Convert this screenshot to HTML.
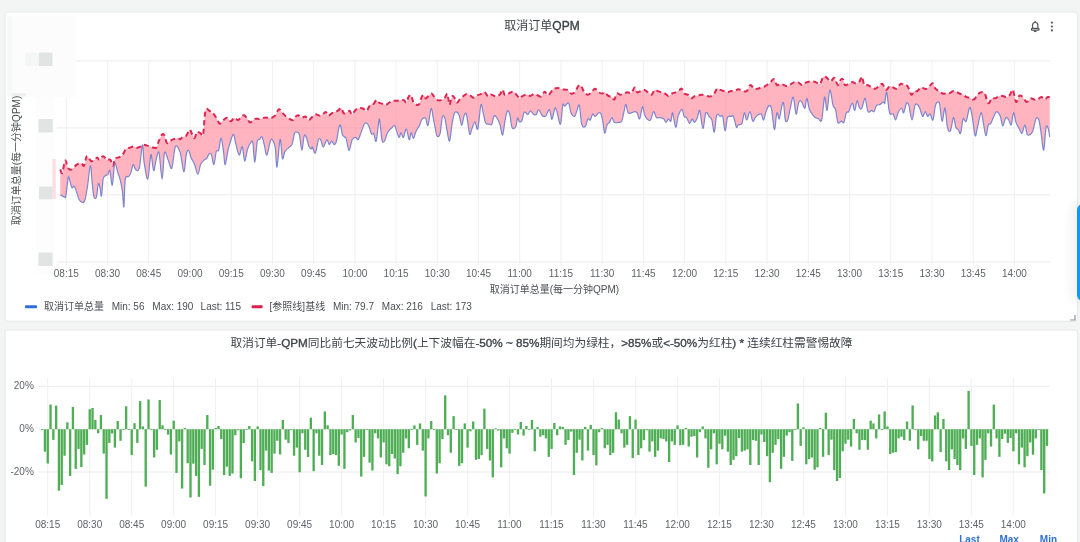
<!DOCTYPE html>
<html><head><meta charset="utf-8"><title>取消订单QPM</title>
<style>
html,body{margin:0;padding:0;}
body{width:1080px;height:542px;overflow:hidden;background:#f3f4f4;position:relative;font-family:"Liberation Sans","Noto Sans CJK SC",sans-serif;}
.panel{position:absolute;background:#fff;border:1px solid #e6e7e8;border-radius:3px;box-sizing:border-box;}
#p1{left:5px;top:11px;width:1072px;height:311px;}
#p2{left:5px;top:329px;width:1072px;height:240px;}
svg{position:absolute;left:0;top:0;}
.g{stroke:#ebebec;stroke-width:1;}
.gv{stroke:#f0f0f1;stroke-width:1;}
.t{font-family:"Liberation Sans","Noto Sans CJK SC",sans-serif;font-size:10px;fill:#606368;}
.title{font-family:"Liberation Sans","Noto Sans CJK SC",sans-serif;font-size:12px;fill:#3f444b;font-weight:normal;}
.lb{stroke:#3f444b;stroke-width:0.35px;}
.lg{font-family:"Liberation Sans","Noto Sans CJK SC",sans-serif;font-size:10px;fill:#4b4e54;}
.hd{font-family:"Liberation Sans","Noto Sans CJK SC",sans-serif;font-size:10px;fill:#2f6fd6;font-weight:bold;}
#tab{position:absolute;left:1076.5px;top:204px;width:10px;height:97px;background:#0f99f0;border-radius:6px 0 0 6px;box-shadow:-5px 0 12px rgba(0,0,0,0.07);}
</style></head>
<body>
<svg width="1080" height="542" viewBox="0 0 1080 542">
<rect x="5.1" y="12" width="1072.3" height="309.3" rx="2.5" fill="#fff" stroke="#e6e7e8" stroke-width="1"/>
<rect x="5.1" y="330" width="1072.3" height="240" rx="2.5" fill="#fff" stroke="#e6e7e8" stroke-width="1"/>
<line x1="57" y1="60.9" x2="1050" y2="60.9" class="g"/>
<line x1="57" y1="127.9" x2="1050" y2="127.9" class="g"/>
<line x1="57" y1="194.9" x2="1050" y2="194.9" class="g"/>
<line x1="57" y1="261.9" x2="1050" y2="261.9" class="g"/>
<line x1="66.3" y1="60" x2="66.3" y2="265" class="gv"/>
<line x1="107.5" y1="60" x2="107.5" y2="265" class="gv"/>
<line x1="148.7" y1="60" x2="148.7" y2="265" class="gv"/>
<line x1="190.0" y1="60" x2="190.0" y2="265" class="gv"/>
<line x1="231.2" y1="60" x2="231.2" y2="265" class="gv"/>
<line x1="272.4" y1="60" x2="272.4" y2="265" class="gv"/>
<line x1="313.6" y1="60" x2="313.6" y2="265" class="gv"/>
<line x1="354.9" y1="60" x2="354.9" y2="265" class="gv"/>
<line x1="396.1" y1="60" x2="396.1" y2="265" class="gv"/>
<line x1="437.3" y1="60" x2="437.3" y2="265" class="gv"/>
<line x1="478.5" y1="60" x2="478.5" y2="265" class="gv"/>
<line x1="519.7" y1="60" x2="519.7" y2="265" class="gv"/>
<line x1="561.0" y1="60" x2="561.0" y2="265" class="gv"/>
<line x1="602.2" y1="60" x2="602.2" y2="265" class="gv"/>
<line x1="643.4" y1="60" x2="643.4" y2="265" class="gv"/>
<line x1="684.6" y1="60" x2="684.6" y2="265" class="gv"/>
<line x1="725.8" y1="60" x2="725.8" y2="265" class="gv"/>
<line x1="767.1" y1="60" x2="767.1" y2="265" class="gv"/>
<line x1="808.3" y1="60" x2="808.3" y2="265" class="gv"/>
<line x1="849.5" y1="60" x2="849.5" y2="265" class="gv"/>
<line x1="890.7" y1="60" x2="890.7" y2="265" class="gv"/>
<line x1="932.0" y1="60" x2="932.0" y2="265" class="gv"/>
<line x1="973.2" y1="60" x2="973.2" y2="265" class="gv"/>
<line x1="1014.4" y1="60" x2="1014.4" y2="265" class="gv"/>
<path d="M60.3,169.4 C60.6,170 61.5,174.3 62.2,173.1 C62.9,171.9 64,164.2 64.6,162.2 C65.2,160.2 65.2,160 65.8,161 C66.4,162 67.2,166.8 68.2,168.2 C69.2,169.6 70.4,170 71.9,169.4 C73.3,168.8 75.1,165.6 76.7,164.6 C78.3,163.6 80.3,163.2 81.5,163.4 C82.7,163.6 83.1,166.8 83.9,165.8 C84.7,164.8 85.7,159 86.3,157.4 C86.9,155.8 86.7,155.6 87.5,156.2 C88.3,156.8 89.9,160.4 91.1,161 C92.3,161.6 93.7,160.4 94.7,159.8 C95.7,159.2 96.3,157.4 97.1,157.4 C97.9,157.4 98.5,160 99.5,159.8 C100.5,159.6 101.9,156.2 103.1,156.2 C104.4,156.2 105.6,159.2 106.8,159.8 C108,160.4 109.4,158.8 110.4,159.8 C111.4,160.8 112,166 112.8,165.8 C113.6,165.6 114.2,160 115.2,158.6 C116.2,157.2 117.6,158 118.8,157.4 C120,156.8 121.2,156.4 122.4,155 C123.6,153.6 124.8,150.2 126,149 C127.2,147.8 128.4,148.2 129.6,147.8 C130.8,147.4 132,146.6 133.2,146.6 C134.4,146.6 135.6,147.8 136.9,147.8 C138.1,147.8 139.5,147.1 140.5,146.6 C141.5,146.1 141.9,145.1 142.9,144.9 C143.9,144.7 145.3,145.1 146.5,145.4 C147.7,145.7 148.5,146.2 150.1,146.6 C151.7,147 154.7,148.6 156.1,147.8 C157.5,147 157.5,144 158.5,141.8 C159.5,139.6 161.1,135.5 162.1,134.5 C163.1,133.5 163.7,134.3 164.5,135.7 C165.3,137.1 165.9,142.2 166.9,143 C167.9,143.8 169.6,141.2 170.6,140.6 C171.6,140 171.8,139.8 173,139.4 C174.2,139 176.6,138.1 177.8,138.1 C179,138.1 179.4,139.6 180.2,139.4 C181,139.2 181.6,137.5 182.6,136.9 C183.6,136.3 185,136.9 186.2,135.7 C187.4,134.5 188.8,129.9 189.8,129.7 C190.8,129.5 191.4,133.1 192.2,134.5 C193,135.9 193.8,138.5 194.6,138.1 C195.4,137.7 196,132.9 197,132.1 C198,131.3 199.6,132.9 200.6,133.3 C201.7,133.7 202.3,138.3 203.1,134.5 C203.9,130.7 204.5,114.5 205.5,110.5 C206.5,106.5 208.1,110.1 209.1,110.5 C210.1,110.9 210.7,112.3 211.5,112.9 C212.3,113.5 212.9,112.9 213.9,114.1 C214.9,115.3 216.5,118.5 217.5,120.1 C218.5,121.7 218.9,123.7 219.9,123.7 C220.9,123.7 222.3,121.1 223.5,120.1 C224.7,119.1 225.9,117.5 227.1,117.7 C228.3,117.9 229.5,121.3 230.7,121.3 C231.9,121.3 233.1,117.9 234.4,117.7 C235.6,117.5 236.8,120.3 238,120.1 C239.2,119.9 240.6,117.3 241.6,116.5 C242.6,115.7 243,114.9 244,115.3 C245,115.7 246.6,117.7 247.6,118.9 C248.6,120.1 248.8,122.5 250,122.5 C251.2,122.5 253.2,119.5 254.8,118.9 C256.4,118.3 258,119.1 259.6,118.9 C261.2,118.7 263,117.9 264.4,117.7 C265.8,117.5 266.9,117.7 268.1,117.7 C269.3,117.7 270.5,118.1 271.7,117.7 C272.9,117.3 274.1,116.7 275.3,115.3 C276.5,113.9 277.7,109.7 278.9,109.3 C280.1,108.9 281.3,111.7 282.5,112.9 C283.7,114.1 284.9,115.5 286.1,116.5 C287.3,117.5 288.5,118.3 289.7,118.9 C290.9,119.5 292.3,120.5 293.3,120.1 C294.3,119.7 294.9,117.3 295.7,116.5 C296.5,115.7 297.1,115.1 298.1,115.3 C299.2,115.5 300.6,117.5 301.8,117.7 C303,117.9 304.2,116.1 305.4,116.5 C306.6,116.9 307.4,120.4 309,120.1 C310.6,119.8 312.8,115.3 314.8,114.5 C316.8,113.8 319,116.1 320.8,115.7 C322.6,115.3 324.4,112.1 325.6,112.1 C326.9,112.1 327.1,115.5 328.1,115.7 C329.1,115.9 330.7,113.9 331.7,113.3 C332.7,112.7 333.1,112.5 334.1,112.1 C335.1,111.7 336.5,111.6 337.7,110.9 C338.9,110.2 340.3,107.6 341.3,108 C342.3,108.4 342.7,112.7 343.7,113.3 C344.7,114 346.3,112.5 347.3,112.1 C348.3,111.7 348.9,110.5 349.7,110.9 C350.5,111.3 351.1,114.7 352.1,114.5 C353.1,114.3 354.5,110.8 355.7,109.7 C356.9,108.6 358.1,108.2 359.4,108 C360.6,107.8 361.8,108 363,108.5 C364.2,109 365.4,111.5 366.6,110.9 C367.8,110.3 369,106.1 370.2,104.9 C371.4,103.7 372.8,104.5 373.8,103.7 C374.8,102.9 375.4,100.3 376.2,100.1 C377,99.9 377.6,101.9 378.6,102.5 C379.6,103.1 381,103.3 382.2,103.7 C383.4,104.1 384.6,105.1 385.8,104.9 C387,104.7 388.2,103.2 389.4,102.5 C390.6,101.8 391.9,101.1 393.1,100.8 C394.3,100.5 395.5,100.9 396.7,100.8 C397.9,100.7 399.1,100.2 400.3,100.1 C401.5,100 402.9,99.7 403.9,100.1 C404.9,100.5 405.5,103.1 406.3,102.5 C407.1,101.9 407.9,97.7 408.7,96.5 C409.5,95.3 410.3,94.3 411.1,95.3 C411.9,96.3 412.5,100.9 413.5,102.5 C414.5,104.1 416.1,104.7 417.1,104.9 C418.1,105.1 418.7,105.1 419.5,103.7 C420.3,102.3 421.1,97.9 421.9,96.5 C422.7,95.1 423.8,95 424.4,95.3 C425,95.6 424.8,98.4 425.6,98.4 C426.4,98.4 428.2,96.1 429.2,95.3 C430.2,94.5 430.8,93.4 431.6,93.6 C432.4,93.8 433,95.4 434,96.5 C435,97.6 436.4,99.5 437.6,100.1 C438.8,100.7 440,100.5 441.2,100.1 C442.4,99.7 443.8,98.8 444.8,97.7 C445.8,96.6 446.6,93.4 447.2,93.6 C447.8,93.8 448,97 448.4,98.9 C448.8,100.8 449,105.3 449.6,104.9 C450.2,104.5 451.2,97.7 452,96.5 C452.8,95.3 453.6,96.7 454.4,97.7 C455.2,98.7 456,102.1 456.9,102.5 C457.7,102.9 458.3,101.1 459.3,100.1 C460.3,99.1 461.7,97.5 462.9,96.5 C464.1,95.5 465.3,94.3 466.5,94.1 C467.7,93.9 468.9,94.7 470.1,95.3 C471.3,95.9 472.5,97.7 473.7,97.7 C474.9,97.7 476.1,95.9 477.3,95.3 C478.5,94.7 479.7,94.6 480.9,94.1 C482.1,93.6 483.3,91.7 484.5,92.1 C485.7,92.5 487.1,96.1 488.1,96.5 C489.2,96.9 489.8,94.8 490.6,94.6 C491.4,94.4 492,95 493,95.3 C494,95.6 495.4,96.7 496.6,96.5 C497.8,96.3 499.2,95.2 500.2,94.1 C501.2,93 501.8,89.5 502.6,89.7 C503.4,89.9 503.8,94.8 505,95.3 C506.2,95.8 508.4,93.5 509.8,92.9 C511.2,92.3 512.2,91.3 513.4,91.7 C514.6,92.1 516,94.2 517,95.3 C518,96.4 518.6,98.2 519.4,98.4 C520.2,98.6 520.6,97.1 521.9,96.5 C523.1,95.8 525.3,94.6 526.7,94.6 C528.1,94.5 529.1,96.1 530.3,96 C531.5,95.9 532.7,94.2 533.9,94.1 C535.1,94 536.3,94.9 537.5,95.3 C538.7,95.7 539.9,97.1 541.1,96.5 C542.3,95.9 543.5,91.9 544.7,91.7 C545.9,91.5 546.9,95.7 548.3,95.3 C549.7,94.9 551.5,90.5 553.1,89.3 C554.8,88.1 556.6,88.1 558,88.1 C559.4,88.1 560,89 561.6,89.3 C563.1,89.6 565.8,89.2 567.4,89.9 C569,90.6 569.8,93.1 571,93.5 C572.2,93.9 573.3,93.7 574.6,92.3 C576,90.9 577.8,85.9 579,85.1 C580.2,84.3 581,86.3 581.9,87.5 C582.7,88.7 583.3,91.1 584.3,92.3 C585.3,93.5 586.7,94.7 587.9,94.7 C589.1,94.7 590.3,93.3 591.5,92.3 C592.7,91.3 593.9,88.7 595.1,88.7 C596.3,88.7 597.5,91.5 598.7,92.3 C599.9,93.1 601.3,93.5 602.3,93.5 C603.3,93.5 603.7,91.9 604.7,92.3 C605.7,92.7 607.1,95.1 608.3,95.9 C609.5,96.7 610.9,96.5 611.9,97.1 C612.9,97.7 613.5,100.1 614.4,99.5 C615.2,98.9 615.8,94.3 616.8,93.5 C617.8,92.7 619.2,94.7 620.4,94.7 C621.6,94.7 622.8,93.9 624,93.5 C625.2,93.1 626.4,92.4 627.6,92.3 C628.8,92.2 630,93.8 631.2,93 C632.4,92.2 633.8,87.6 634.8,87.5 C635.8,87.4 636.2,91.7 637.2,92.3 C638.2,92.9 639.6,91.5 640.8,91.1 C642,90.7 643.2,89.7 644.4,89.9 C645.6,90.1 646.9,91.5 648.1,92.3 C649.3,93.1 650.6,95.1 651.7,94.7 C652.8,94.3 653.6,90.5 654.6,89.9 C655.6,89.3 656.6,90.7 657.7,91.1 C658.8,91.5 660.1,91.9 661.3,92.3 C662.5,92.7 663.7,92.9 664.9,93.5 C666.1,94.1 667.3,95.9 668.5,95.9 C669.7,95.9 670.9,94.1 672.1,93.5 C673.3,92.9 674.5,92.9 675.7,92.3 C676.9,91.7 678.3,90.5 679.4,89.9 C680.4,89.3 681,88.1 681.8,88.7 C682.6,89.3 683.2,92.5 684.2,93.5 C685.2,94.5 686.6,93.9 687.8,94.7 C689,95.5 690.2,98.1 691.4,98.3 C692.6,98.5 693.8,96.4 695,95.9 C696.2,95.4 697.4,95.6 698.6,95.4 C699.8,95.2 700.8,94.6 702.2,94.7 C703.6,94.8 705.6,95.6 707,95.9 C708.4,96.2 709.4,96.8 710.6,96.4 C711.9,96 713.2,94.8 714.3,93.5 C715.3,92.2 716.1,89.3 717.1,88.7 C718.2,88.1 719.2,89.5 720.3,89.9 C721.4,90.3 722.7,90.7 723.9,91.1 C725.1,91.5 726.3,92.3 727.5,92.3 C728.7,92.3 729.9,91.3 731.1,91.1 C732.3,90.9 733.5,91.4 734.7,91.1 C735.9,90.8 736.9,89.2 738.3,89.2 C739.7,89.2 741.7,90.8 743.1,91.1 C744.6,91.4 745.6,92.1 746.8,91.1 C748,90.1 749.2,85.5 750.4,85.1 C751.6,84.7 752.8,88.1 754,88.7 C755.2,89.3 756.4,88.9 757.6,88.7 C758.8,88.5 760,87.9 761.2,87.5 C762.4,87.1 763.6,86.9 764.8,86.3 C766,85.7 767.4,84.6 768.4,83.9 C769.4,83.2 769.9,82.8 770.8,82 C771.8,81.2 773,78.6 774,79.1 C775,79.6 775.8,84.3 776.9,85.1 C777.9,85.9 779.3,83.9 780.5,83.9 C781.7,83.9 782.9,84.7 784.1,85.1 C785.3,85.5 786.5,86.5 787.7,86.3 C788.9,86.1 790.1,84.6 791.3,83.9 C792.5,83.2 793.7,82.2 794.9,82 C796.1,81.8 797.3,82.2 798.5,82.7 C799.7,83.2 800.9,85.1 802.1,85.1 C803.3,85.1 804.3,83.3 805.7,82.7 C807.1,82.1 809,81.6 810.6,81.5 C812.2,81.4 813.8,81.6 815.4,82 C816.9,82.4 818.5,84.8 819.8,83.9 C821.2,83 822.2,77.7 823.4,76.7 C824.6,75.7 825.8,77.1 827,77.9 C828.2,78.7 829.4,81.5 830.6,81.5 C831.9,81.5 833.1,77.3 834.3,77.9 C835.5,78.5 836.9,84.7 837.9,85.1 C838.9,85.5 839.5,81.3 840.3,80.3 C841.1,79.3 841.9,78.3 842.7,79.1 C843.5,79.9 844.1,84.3 845.1,85.1 C846.1,85.9 847.5,84.4 848.7,83.9 C849.9,83.4 851.1,82 852.3,82 C853.5,81.9 854.7,83.5 855.9,83.4 C857.1,83.3 858.5,82.6 859.5,81.5 C860.5,80.4 861.1,76.1 861.9,76.7 C862.7,77.3 863.3,83.7 864.4,85.1 C865.4,86.5 866.8,84.7 868,85.1 C869.2,85.5 870.4,86.9 871.6,87.5 C872.8,88.1 874,88.9 875.2,88.7 C876.4,88.5 877.6,87.1 878.8,86.3 C880,85.5 881.2,83.3 882.4,83.9 C883.6,84.5 884.8,89.5 886,89.9 C887.2,90.3 888.4,86.7 889.6,86.3 C890.8,85.9 892,87.1 893.2,87.5 C894.4,87.9 895.6,89.3 896.9,88.7 C898.1,88.1 899.3,84.5 900.5,83.9 C901.7,83.3 902.9,84.7 904.1,85.1 C905.3,85.5 906.5,84.7 907.7,86.3 C908.9,87.9 910.2,93.9 911.3,94.7 C912.4,95.5 913.2,91.7 914.2,91.1 C915.2,90.5 916.2,91.7 917.3,91.1 C918.4,90.5 919.7,87.9 920.9,87.5 C922.1,87.1 923.5,88.5 924.5,88.7 C925.5,88.9 925.9,89.3 926.9,88.7 C927.9,88.1 929.6,86 930.6,85.1 C931.6,84.2 932.2,82.8 933,83.4 C933.8,84 934.4,87.4 935.4,88.7 C936.4,90 937.8,90.3 939,91.1 C940.2,91.9 941.4,93.1 942.6,93.5 C943.8,93.9 945,93.6 946.2,93.5 C947.4,93.4 948.6,93.4 949.8,93 C951,92.6 952.2,91.2 953.4,91.1 C954.6,91 956,91.9 957,92.3 C958,92.7 958.4,93.1 959.4,93.5 C960.4,93.9 961.9,94.1 963.1,94.7 C964.3,95.3 965.5,96.6 966.7,97.1 C967.9,97.7 969.1,97.5 970.3,97.9 C971.5,98.3 972.7,100.1 973.9,99.5 C975.1,99 976.3,95.9 977.5,94.7 C978.7,93.5 979.9,92.5 981.1,92.3 C982.3,92.1 983.5,91.7 984.7,93.5 C985.9,95.3 987.1,102.3 988.3,103.1 C989.5,104 990.7,99.1 991.9,98.3 C993.1,97.5 994.4,98.7 995.6,98.3 C996.8,97.9 998,96.3 999.2,95.9 C1000.4,95.5 1001.6,95.7 1002.8,95.9 C1004,96.1 1005.2,97.3 1006.4,97.1 C1007.6,96.9 1008.9,95.9 1010,94.7 C1011.1,93.5 1011.9,88.7 1012.9,89.9 C1013.9,91.1 1015,100.9 1016,101.9 C1017.1,102.9 1018.1,96.8 1019.1,95.9 C1020.2,95 1021.2,95.8 1022,96.4 C1022.9,97 1023.6,98.6 1024.4,99.5 C1025.2,100.5 1025.8,102.1 1026.9,101.9 C1027.9,101.7 1029.3,98.7 1030.5,98.3 C1031.7,97.9 1032.9,99.3 1034.1,99.5 C1035.3,99.7 1036.5,99.9 1037.7,99.5 C1038.9,99.1 1040.1,97.1 1041.3,97.1 C1042.5,97.1 1043.9,99.5 1044.9,99.5 C1045.9,99.5 1046.5,97.5 1047.3,97.1 C1048.1,96.7 1049.3,97.1 1049.7,97.1 L1049.7,136.9 C1049.5,135.6 1049.1,131.2 1048.5,129.6 C1047.9,128 1046.9,123.8 1046.1,127.2 C1045.3,130.6 1044.5,148.9 1043.7,150.1 C1042.9,151.3 1042.1,139.5 1041.3,134.4 C1040.5,129.4 1039.8,122.6 1038.9,120 C1038,117.4 1037,117 1036,118.8 C1035,120.6 1033.8,128.2 1032.9,130.8 C1031.9,133.4 1031.4,133.8 1030.5,134.4 C1029.5,135 1028.3,136 1027.3,134.4 C1026.4,132.8 1025.8,125 1024.9,124.8 C1024,124.6 1023,132.6 1022,133.2 C1021.1,133.8 1020.2,130.2 1019.1,128.4 C1018.1,126.6 1016.9,125 1016,122.4 C1015.1,119.8 1014.4,112.4 1013.6,112.8 C1012.8,113.2 1012,123.6 1011.2,124.8 C1010.4,126 1009.7,121.2 1008.8,120 C1007.9,118.8 1006.7,116.6 1005.7,117.6 C1004.7,118.6 1003.7,126.2 1002.8,126 C1001.9,125.8 1001.4,118.8 1000.4,116.4 C999.4,114 997.8,111.8 996.8,111.6 C995.8,111.4 995.4,113.2 994.4,115.2 C993.3,117.2 991.7,122 990.7,123.6 C989.7,125.2 989.1,122.8 988.3,124.8 C987.5,126.8 986.7,135.8 985.9,135.6 C985.1,135.4 984.3,127.4 983.5,123.6 C982.7,119.8 982.1,112.2 981.1,112.8 C980.1,113.4 978.5,123.4 977.5,127.2 C976.5,131 976,137.7 975.1,135.6 C974.2,133.6 972.9,119.9 972,115.2 C971,110.5 970.5,106.5 969.6,107.5 C968.6,108.5 967.3,119.3 966.2,121.2 C965.1,123.1 964,116.8 963.1,118.8 C962.1,120.8 961.5,131.4 960.6,133.2 C959.8,135 959,130.6 958.2,129.6 C957.4,128.6 956.6,129.2 955.8,127.2 C955,125.2 954.3,117 953.4,117.6 C952.5,118.2 951.5,129.2 950.5,130.8 C949.5,132.4 948.3,131 947.4,127.2 C946.5,123.4 945.9,109 945,108 C944.1,107 943,121.8 942.1,121.2 C941.2,120.6 940.4,107.6 939.7,104.4 C939,101.1 938.5,101.7 937.8,101.9 C937.1,102.1 936.2,102.5 935.4,105.6 C934.6,108.6 933.8,118.6 933,120 C932.1,121.4 931,114.6 930.1,114 C929.2,113.4 928.5,116.8 927.7,116.4 C926.9,116 926.1,111.6 925.3,111.6 C924.4,111.6 923.5,117 922.6,116.4 C921.7,115.8 920.6,110 919.7,108 C918.8,106 918.1,104.8 917.3,104.4 C916.5,104 915.8,102.9 914.9,105.6 C914,108.2 913,120 912,120 C911,120 909.8,108.4 908.9,105.6 C908,102.7 907.4,101.9 906.5,103.1 C905.6,104.4 904.4,112 903.6,112.8 C902.8,113.6 902.6,108 901.7,108 C900.7,108 899.1,110.8 898.1,112.8 C897.1,114.8 896.5,119.8 895.6,120 C894.8,120.2 894.2,115.2 893.2,114 C892.2,112.8 890.7,116.4 889.6,112.8 C888.5,109.2 887.5,93.9 886.7,92.3 C885.9,90.7 885.3,101.5 884.8,103.1 C884.3,104.8 884.4,101.7 883.6,101.9 C882.8,102.1 881.2,103.8 880,104.4 C878.8,105 877.4,104.4 876.4,105.6 C875.4,106.8 874.8,110.8 874,111.6 C873.2,112.4 872.6,110.4 871.6,110.4 C870.6,110.4 869,113.6 868,111.6 C866.9,109.6 866.1,98.9 865.1,98.3 C864.1,97.7 862.9,106.4 861.9,108 C861,109.6 860.3,109.2 859.5,108 C858.7,106.8 857.9,100.3 857.1,100.7 C856.3,101.1 855.5,110 854.7,110.4 C853.9,110.8 853.3,102.9 852.3,103.1 C851.3,103.3 849.7,110 848.7,111.6 C847.7,113.2 847.1,111 846.3,112.8 C845.5,114.6 844.7,121 843.9,122.4 C843.1,123.8 842.5,121.2 841.5,121.2 C840.5,121.2 838.9,124.4 837.9,122.4 C836.9,120.4 836.3,112 835.5,109.2 C834.7,106.4 834,108.8 833.1,105.6 C832.1,102.3 830.9,89.1 829.9,89.9 C828.9,90.7 827.9,109.2 827,110.4 C826.2,111.6 825.5,95.5 824.6,97.1 C823.7,98.7 822.7,116.4 821.7,120 C820.7,123.6 819.7,119.2 818.6,118.8 C817.5,118.4 816.3,118.2 815.4,117.6 C814.4,117 814,116.6 813,115.2 C812,113.8 810.4,112 809.4,109.2 C808.3,106.4 807.7,98.5 806.9,98.3 C806.2,98.1 805.6,106.8 805,108 C804.4,109.2 804,106.8 803.3,105.6 C802.7,104.4 801.7,101.1 800.9,100.7 C800.1,100.3 799.3,100.9 798.5,103.1 C797.7,105.4 797,115 796.1,114 C795.2,113 794.2,97.9 793.2,97.1 C792.2,96.3 791,105.4 790.1,109.2 C789.2,113 788.5,118.2 787.7,120 C786.9,121.8 786,122.8 785.3,120 C784.6,117.2 784.2,105.4 783.6,103.1 C783,100.9 782.4,104.2 781.7,106.8 C780.9,109.4 780.1,117.8 779.3,118.8 C778.5,119.8 777.7,111 776.9,112.8 C776,114.6 775.3,130.2 774.4,129.6 C773.6,129 772.4,113.2 771.6,109.2 C770.7,105.2 770.1,105.2 769.1,105.6 C768.2,106 766.9,109.2 766,111.6 C765.1,114 764.4,119.6 763.6,120 C762.8,120.4 762.2,114.8 761.2,114 C760.2,113.2 758.6,114.6 757.6,115.2 C756.6,115.8 756,116.6 755.2,117.6 C754.4,118.6 753.7,122.2 752.8,121.2 C751.9,120.2 750.9,111.8 749.9,111.6 C748.9,111.4 747.7,119.8 746.8,120 C745.8,120.2 745.2,112.2 744.4,112.8 C743.5,113.4 742.9,121.6 741.9,123.6 C740.9,125.6 739.3,124.2 738.3,124.8 C737.4,125.4 737.2,128.6 736.4,127.2 C735.6,125.8 734.4,118.2 733.5,116.4 C732.6,114.6 732.1,116.2 731.1,116.4 C730.1,116.6 728.5,115.2 727.5,117.6 C726.5,120 725.9,131 725.1,130.8 C724.3,130.6 723.5,118.8 722.7,116.4 C721.9,114 721.3,116.6 720.3,116.4 C719.3,116.2 717.7,112.6 716.7,115.2 C715.7,117.8 715.1,131.2 714.3,132 C713.5,132.8 712.7,122.6 711.9,120 C711,117.4 710,117.6 709,116.4 C708,115.2 706.8,110.8 705.8,112.8 C704.8,114.8 703.9,128.8 702.9,128.4 C701.9,128 700.7,112.2 699.8,110.4 C698.9,108.6 698.3,115.6 697.4,117.6 C696.5,119.6 695.4,122.2 694.5,122.4 C693.6,122.6 692.9,118.6 692.1,118.8 C691.3,119 690.6,123.8 689.7,123.6 C688.8,123.4 687.5,118.8 686.6,117.6 C685.7,116.4 685,117.8 684.2,116.4 C683.4,115 682.8,109.2 681.8,109.2 C680.8,109.2 679.2,113.4 678.1,116.4 C677.1,119.4 676.7,127.8 675.7,127.2 C674.8,126.6 673.4,113.8 672.6,112.8 C671.8,111.8 671.6,120.2 670.9,121.2 C670.2,122.2 669.3,118.6 668.5,118.8 C667.7,119 666.9,122.4 666.1,122.4 C665.3,122.4 664.7,119.6 663.7,118.8 C662.7,118 661.3,117.8 660.1,117.6 C658.9,117.4 657.6,118.6 656.5,117.6 C655.4,116.6 654.6,111.2 653.6,111.6 C652.6,112 651.6,118.8 650.5,120 C649.3,121.2 647.9,119.8 646.9,118.8 C645.8,117.8 645.2,116 644.4,114 C643.7,112 643.3,106 642.5,106.8 C641.7,107.6 640.5,117.8 639.6,118.8 C638.7,119.8 638,114 637.2,112.8 C636.4,111.6 635.8,111.6 634.8,111.6 C633.8,111.6 632.3,112.6 631.2,112.8 C630.1,113 629,114.2 628.1,112.8 C627.2,111.4 626.6,104.6 625.9,104.4 C625.2,104.2 624.7,108.8 624,111.6 C623.3,114.4 622.6,119.4 621.6,121.2 C620.6,123 619.2,122.2 618,122.4 C616.8,122.6 615.4,123.2 614.4,122.4 C613.3,121.6 612.7,117.6 611.9,117.6 C611.1,117.6 610.3,121.2 609.5,122.4 C608.7,123.6 607.9,123 607.1,124.8 C606.3,126.6 605.4,133.6 604.7,133.2 C604,132.8 603.6,125.6 603,122.4 C602.4,119.2 601.8,115.6 601.1,114 C600.4,112.4 599.7,112.4 598.7,112.8 C597.7,113.2 596.1,116.2 595.1,116.4 C594.1,116.6 593.5,113.4 592.7,114 C591.9,114.6 591.1,119.2 590.3,120 C589.5,120.8 588.7,117.8 587.9,118.8 C587.1,119.8 586.5,125 585.5,126 C584.5,127 582.9,128.2 581.9,124.8 C580.8,121.4 580.2,108 579.4,105.6 C578.6,103.1 577.8,108.6 577,110.4 C576.2,112.2 575.6,116 574.6,116.4 C573.6,116.8 572,115 571,112.8 C570,110.6 569.7,104.3 568.6,103.1 C567.6,102 565.7,105.8 564.7,106.1 C563.7,106.4 563.5,101.9 562.8,104.9 C562.1,107.9 561.4,123.2 560.4,124.2 C559.4,125.2 557.7,113.5 556.8,110.9 C555.8,108.3 555.6,107.1 554.8,108.5 C554,109.9 552.8,119.2 551.9,119.4 C551.1,119.6 550.5,110.3 549.5,109.7 C548.5,109.1 547.1,114.7 545.9,115.7 C544.7,116.7 543.5,116.7 542.3,115.7 C541.1,114.7 539.7,109.9 538.7,109.7 C537.7,109.5 537.1,113.7 536.3,114.5 C535.5,115.3 534.9,115.1 533.9,114.5 C532.9,113.9 531.3,110.9 530.3,110.9 C529.3,110.9 528.9,114.3 527.9,114.5 C526.9,114.7 525.3,111.1 524.3,112.1 C523.3,113.1 522.7,119 521.9,120.6 C521,122.2 520.2,122.2 519.4,121.8 C518.7,121.4 518.1,117.3 517.5,118.1 C516.9,119 516.7,125 515.8,126.6 C515,128.2 513.2,129.8 512.2,127.8 C511.2,125.8 510.6,117.3 509.8,114.5 C509,111.7 508.2,109.9 507.4,110.9 C506.6,111.9 505.8,116.5 505,120.6 C504.2,124.6 503.4,134.2 502.6,135 C501.8,135.8 501,128 500.2,125.4 C499.4,122.8 498.8,121 497.8,119.4 C496.8,117.7 495.2,114.9 494.2,115.7 C493.2,116.5 492.6,122.8 491.8,124.2 C491,125.6 490.4,124.4 489.4,124.2 C488.3,124 486.7,124.8 485.7,123 C484.7,121.2 484.1,116.3 483.3,113.3 C482.5,110.3 481.8,102.3 480.9,104.9 C480,107.5 478.8,126.2 477.8,129 C476.8,131.8 475.9,121.8 474.9,121.8 C473.9,121.8 472.7,127 471.8,129 C470.9,131 470.5,136.2 469.6,133.8 C468.7,131.4 467.4,117.5 466.5,114.5 C465.6,111.5 464.9,113.9 464.1,115.7 C463.3,117.5 462.5,125.4 461.7,125.4 C460.9,125.4 460.1,117.9 459.3,115.7 C458.5,113.5 457.7,112.5 456.9,112.1 C456,111.7 455.2,111.3 454.4,113.3 C453.6,115.3 452.8,119.6 452,124.2 C451.2,128.8 450.4,139.8 449.6,141 C448.8,142.2 448,135.2 447.2,131.4 C446.4,127.6 445.6,120.6 444.8,118.1 C444,115.7 443.2,114.3 442.4,116.9 C441.6,119.6 440.9,130.6 440,133.8 C439.1,137 437.9,137.2 437.1,136.2 C436.3,135.2 435.8,130.8 435.2,127.8 C434.5,124.8 433.9,121.4 433.3,118.1 C432.6,114.9 432,107.3 431.1,108.5 C430.2,109.7 428.9,123.8 428,125.4 C427,127 426.6,119.2 425.6,118.1 C424.6,117.1 422.9,118.1 421.9,119.4 C420.9,120.6 420.5,123.4 419.5,125.4 C418.5,127.4 416.9,129.2 415.9,131.4 C414.9,133.6 414.3,138.4 413.5,138.6 C412.7,138.8 411.8,132.4 411.1,132.6 C410.4,132.8 410,140.4 409.2,139.8 C408.4,139.2 407.3,129.4 406.3,129 C405.3,128.6 404.3,136.8 403.4,137.4 C402.5,138 401.7,132.6 401,132.6 C400.3,132.6 399.8,137.6 399.1,137.4 C398.4,137.2 397.4,133.4 396.7,131.4 C395.9,129.4 395.5,126 394.7,125.4 C393.9,124.8 392.7,127 391.9,127.8 C391,128.6 390.2,129.2 389.4,130.2 C388.6,131.2 387.8,132 387,133.8 C386.2,135.6 385.4,139.8 384.6,141 C383.8,142.2 382.9,143.2 382.2,141 C381.5,138.8 381.1,131.4 380.5,127.8 C380,124.2 379.8,117.1 379.1,119.4 C378.4,121.6 377.1,138.6 376.2,141 C375.3,143.4 374.6,135 373.8,133.8 C373,132.6 372.2,135 371.4,133.8 C370.6,132.6 369.8,128.4 369,126.6 C368.2,124.8 367.4,123.4 366.6,123 C365.8,122.6 365.2,122.4 364.2,124.2 C363.2,126 361.6,131.2 360.6,133.8 C359.6,136.4 359,139.2 358.1,139.8 C357.3,140.4 356.7,137.4 355.7,137.4 C354.7,137.4 353.3,137.6 352.1,139.8 C351,142 350,150.8 349,150.6 C348,150.4 347.2,141.2 346.1,138.6 C345,136 343.4,137.2 342.5,135 C341.6,132.8 341.2,126.6 340.6,125.4 C340,124.2 339.6,125.2 338.9,127.8 C338.2,130.4 337.3,138.2 336.5,141 C335.7,143.8 334.9,144.6 334.1,144.6 C333.3,144.6 332.5,141 331.7,141 C330.9,141 330.1,144.8 329.3,144.6 C328.5,144.4 327.9,139.4 326.9,139.8 C325.8,140.2 324.2,147 323.2,147 C322.2,147 321.6,141 320.8,139.8 C320,138.6 319.3,137.6 318.4,139.8 C317.5,142 316.3,151.9 315.3,153.1 C314.3,154.3 313.1,147.7 312.4,147 C311.8,146.4 312,149.1 311.4,149 C310.8,148.9 309.8,148.4 309,146.6 C308.2,144.8 307.4,140 306.6,138.1 C305.8,136.3 305,133.7 304.2,135.7 C303.4,137.7 302.6,150.4 301.8,150.2 C301,150 300.2,137.5 299.4,134.5 C298.5,131.5 297.7,132.3 296.9,132.1 C296.1,131.9 295.3,131.3 294.5,133.3 C293.7,135.3 293.1,141.8 292.1,144.2 C291.1,146.6 289.7,146.6 288.5,147.8 C287.3,149 285.9,149.6 284.9,151.4 C283.9,153.2 283.3,160.6 282.5,158.6 C281.7,156.6 281,137.9 280.1,139.4 C279.2,140.8 277.8,165.6 277,167 C276.2,168.4 276,152.2 275.3,147.8 C274.6,143.4 273.7,141.8 272.9,140.6 C272.1,139.4 271.5,138.1 270.5,140.6 C269.5,143 267.9,154.2 266.9,155 C265.8,155.8 265.2,148.4 264.4,145.4 C263.6,142.4 262.8,137.9 262,136.9 C261.2,135.9 260.4,138.5 259.6,139.4 C258.8,140.2 258,137.9 257.2,141.8 C256.4,145.6 255.5,162 254.8,162.2 C254.1,162.4 253.5,146.4 252.9,143 C252.3,139.6 252.1,140.8 251.2,141.8 C250.3,142.8 248.7,145.8 247.6,149 C246.5,152.2 245.6,161.4 244.7,161 C243.8,160.6 243.2,147.6 242.3,146.6 C241.4,145.6 240.3,155.6 239.2,155 C238,154.4 236.6,146.4 235.6,143 C234.6,139.6 234.4,133.5 233.1,134.5 C231.9,135.5 229.7,144 228.3,149 C227,154 226,164.2 225.2,164.6 C224.4,165 224.2,155.8 223.5,151.4 C222.8,147 221.9,138.3 221.1,138.1 C220.3,137.9 219.5,148 218.7,150.2 C217.9,152.4 217.1,149 216.3,151.4 C215.5,153.8 214.7,164 213.9,164.6 C213.1,165.2 212.3,156.8 211.5,155 C210.7,153.2 209.9,153.2 209.1,153.8 C208.3,154.4 207.5,157.6 206.7,158.6 C205.9,159.6 205.3,158.8 204.3,159.8 C203.3,160.8 201.7,162.2 200.6,164.6 C199.6,167 198.8,174.3 197.8,174.3 C196.8,174.3 195.8,167.4 194.6,164.6 C193.5,161.8 192,159.8 191,157.4 C190,155 189.4,150.6 188.6,150.2 C187.8,149.8 187,151.4 186.2,155 C185.4,158.6 184.8,172.3 183.8,171.9 C182.8,171.5 181.6,156.8 180.2,152.6 C178.8,148.4 176.8,144 175.4,146.6 C174,149.2 173,166 171.8,168.2 C170.6,170.4 169.4,162.4 168.1,159.8 C166.9,157.2 165.5,149.4 164.5,152.6 C163.5,155.8 163.1,179.1 162.1,179.1 C161.2,179.1 160,155.8 159,152.6 C158,149.4 157,156.8 156.1,159.8 C155.2,162.8 154.5,171.5 153.7,170.6 C152.9,169.8 151.9,156.8 151.3,155 C150.7,153.2 150.7,155.8 150.1,159.8 C149.5,163.8 148.7,178.7 147.7,179.1 C146.7,179.5 145,167.9 144.1,162.2 C143.2,156.5 143.2,143.9 142.4,144.9 C141.6,145.9 140.4,164.1 139.3,168.2 C138.1,172.3 136.7,170 135.6,169.4 C134.6,168.8 134,164 133.2,164.6 C132.4,165.2 131.6,171 130.8,173.1 C130,175.1 129.3,175.7 128.4,176.7 C127.5,177.7 126.1,174.1 125.3,179.1 C124.5,184.1 124.3,204.8 123.9,206.8 C123.4,208.8 123,195.7 122.4,191.1 C121.8,186.5 120.8,182.3 120,179.1 C119.2,175.9 118.5,174.5 117.6,171.9 C116.7,169.2 115.6,161.2 114.7,163.4 C113.8,165.6 113.1,183.9 112.3,185.1 C111.5,186.3 110.6,172.5 109.9,170.6 C109.2,168.8 108.7,173.5 108,174.3 C107.2,175.1 106.4,174.7 105.6,175.5 C104.8,176.3 103.8,175.7 103.1,179.1 C102.5,182.5 102,194.5 101.5,195.9 C100.9,197.3 100.5,189.5 100,187.5 C99.5,185.5 98.9,182.3 98.3,183.9 C97.7,185.5 97.1,194.9 96.4,197.1 C95.7,199.3 94.7,199.3 94,197.1 C93.3,194.9 92.9,189.1 92.3,183.9 C91.7,178.7 91.2,165.4 90.4,165.8 C89.6,166.2 88.4,180.7 87.5,186.3 C86.6,191.9 85.9,196.8 85.1,199.5 C84.3,202.3 83.7,202.7 82.7,202.7 C81.7,202.7 80.1,201.3 79.1,199.5 C78.1,197.8 77.5,194.5 76.7,192.3 C75.9,190.1 75.1,187.1 74.3,186.3 C73.5,185.5 72.7,188.7 71.9,187.5 C71,186.3 70,180.7 69.4,179.1 C68.8,177.5 68.8,175.1 68.2,177.9 C67.6,180.7 66.4,192.7 65.8,195.9 C65.2,199.1 65.6,197.3 64.6,197.1 C63.7,196.9 61,195.1 60.3,194.7 Z" fill="#ff6a82" fill-opacity="0.5" stroke="none"/>
<path d="M60.3,194.7 C61,195.1 63.7,196.9 64.6,197.1 C65.6,197.3 65.2,199.1 65.8,195.9 C66.4,192.7 67.6,180.7 68.2,177.9 C68.8,175.1 68.8,177.5 69.4,179.1 C70,180.7 71,186.3 71.9,187.5 C72.7,188.7 73.5,185.5 74.3,186.3 C75.1,187.1 75.9,190.1 76.7,192.3 C77.5,194.5 78.1,197.8 79.1,199.5 C80.1,201.3 81.7,202.7 82.7,202.7 C83.7,202.7 84.3,202.3 85.1,199.5 C85.9,196.8 86.6,191.9 87.5,186.3 C88.4,180.7 89.6,166.2 90.4,165.8 C91.2,165.4 91.7,178.7 92.3,183.9 C92.9,189.1 93.3,194.9 94,197.1 C94.7,199.3 95.7,199.3 96.4,197.1 C97.1,194.9 97.7,185.5 98.3,183.9 C98.9,182.3 99.5,185.5 100,187.5 C100.5,189.5 100.9,197.3 101.5,195.9 C102,194.5 102.5,182.5 103.1,179.1 C103.8,175.7 104.8,176.3 105.6,175.5 C106.4,174.7 107.2,175.1 108,174.3 C108.7,173.5 109.2,168.8 109.9,170.6 C110.6,172.5 111.5,186.3 112.3,185.1 C113.1,183.9 113.8,165.6 114.7,163.4 C115.6,161.2 116.7,169.2 117.6,171.9 C118.5,174.5 119.2,175.9 120,179.1 C120.8,182.3 121.8,186.5 122.4,191.1 C123,195.7 123.4,208.8 123.9,206.8 C124.3,204.8 124.5,184.1 125.3,179.1 C126.1,174.1 127.5,177.7 128.4,176.7 C129.3,175.7 130,175.1 130.8,173.1 C131.6,171 132.4,165.2 133.2,164.6 C134,164 134.6,168.8 135.6,169.4 C136.7,170 138.1,172.3 139.3,168.2 C140.4,164.1 141.6,145.9 142.4,144.9 C143.2,143.9 143.2,156.5 144.1,162.2 C145,167.9 146.7,179.5 147.7,179.1 C148.7,178.7 149.5,163.8 150.1,159.8 C150.7,155.8 150.7,153.2 151.3,155 C151.9,156.8 152.9,169.8 153.7,170.6 C154.5,171.5 155.2,162.8 156.1,159.8 C157,156.8 158,149.4 159,152.6 C160,155.8 161.2,179.1 162.1,179.1 C163.1,179.1 163.5,155.8 164.5,152.6 C165.5,149.4 166.9,157.2 168.1,159.8 C169.4,162.4 170.6,170.4 171.8,168.2 C173,166 174,149.2 175.4,146.6 C176.8,144 178.8,148.4 180.2,152.6 C181.6,156.8 182.8,171.5 183.8,171.9 C184.8,172.3 185.4,158.6 186.2,155 C187,151.4 187.8,149.8 188.6,150.2 C189.4,150.6 190,155 191,157.4 C192,159.8 193.5,161.8 194.6,164.6 C195.8,167.4 196.8,174.3 197.8,174.3 C198.8,174.3 199.6,167 200.6,164.6 C201.7,162.2 203.3,160.8 204.3,159.8 C205.3,158.8 205.9,159.6 206.7,158.6 C207.5,157.6 208.3,154.4 209.1,153.8 C209.9,153.2 210.7,153.2 211.5,155 C212.3,156.8 213.1,165.2 213.9,164.6 C214.7,164 215.5,153.8 216.3,151.4 C217.1,149 217.9,152.4 218.7,150.2 C219.5,148 220.3,137.9 221.1,138.1 C221.9,138.3 222.8,147 223.5,151.4 C224.2,155.8 224.4,165 225.2,164.6 C226,164.2 227,154 228.3,149 C229.7,144 231.9,135.5 233.1,134.5 C234.4,133.5 234.6,139.6 235.6,143 C236.6,146.4 238,154.4 239.2,155 C240.3,155.6 241.4,145.6 242.3,146.6 C243.2,147.6 243.8,160.6 244.7,161 C245.6,161.4 246.5,152.2 247.6,149 C248.7,145.8 250.3,142.8 251.2,141.8 C252.1,140.8 252.3,139.6 252.9,143 C253.5,146.4 254.1,162.4 254.8,162.2 C255.5,162 256.4,145.6 257.2,141.8 C258,137.9 258.8,140.2 259.6,139.4 C260.4,138.5 261.2,135.9 262,136.9 C262.8,137.9 263.6,142.4 264.4,145.4 C265.2,148.4 265.8,155.8 266.9,155 C267.9,154.2 269.5,143 270.5,140.6 C271.5,138.1 272.1,139.4 272.9,140.6 C273.7,141.8 274.6,143.4 275.3,147.8 C276,152.2 276.2,168.4 277,167 C277.8,165.6 279.2,140.8 280.1,139.4 C281,137.9 281.7,156.6 282.5,158.6 C283.3,160.6 283.9,153.2 284.9,151.4 C285.9,149.6 287.3,149 288.5,147.8 C289.7,146.6 291.1,146.6 292.1,144.2 C293.1,141.8 293.7,135.3 294.5,133.3 C295.3,131.3 296.1,131.9 296.9,132.1 C297.7,132.3 298.5,131.5 299.4,134.5 C300.2,137.5 301,150 301.8,150.2 C302.6,150.4 303.4,137.7 304.2,135.7 C305,133.7 305.8,136.3 306.6,138.1 C307.4,140 308.2,144.8 309,146.6 C309.8,148.4 310.8,148.9 311.4,149 C312,149.1 311.8,146.4 312.4,147 C313.1,147.7 314.3,154.3 315.3,153.1 C316.3,151.9 317.5,142 318.4,139.8 C319.3,137.6 320,138.6 320.8,139.8 C321.6,141 322.2,147 323.2,147 C324.2,147 325.8,140.2 326.9,139.8 C327.9,139.4 328.5,144.4 329.3,144.6 C330.1,144.8 330.9,141 331.7,141 C332.5,141 333.3,144.6 334.1,144.6 C334.9,144.6 335.7,143.8 336.5,141 C337.3,138.2 338.2,130.4 338.9,127.8 C339.6,125.2 340,124.2 340.6,125.4 C341.2,126.6 341.6,132.8 342.5,135 C343.4,137.2 345,136 346.1,138.6 C347.2,141.2 348,150.4 349,150.6 C350,150.8 351,142 352.1,139.8 C353.3,137.6 354.7,137.4 355.7,137.4 C356.7,137.4 357.3,140.4 358.1,139.8 C359,139.2 359.6,136.4 360.6,133.8 C361.6,131.2 363.2,126 364.2,124.2 C365.2,122.4 365.8,122.6 366.6,123 C367.4,123.4 368.2,124.8 369,126.6 C369.8,128.4 370.6,132.6 371.4,133.8 C372.2,135 373,132.6 373.8,133.8 C374.6,135 375.3,143.4 376.2,141 C377.1,138.6 378.4,121.6 379.1,119.4 C379.8,117.1 380,124.2 380.5,127.8 C381.1,131.4 381.5,138.8 382.2,141 C382.9,143.2 383.8,142.2 384.6,141 C385.4,139.8 386.2,135.6 387,133.8 C387.8,132 388.6,131.2 389.4,130.2 C390.2,129.2 391,128.6 391.9,127.8 C392.7,127 393.9,124.8 394.7,125.4 C395.5,126 395.9,129.4 396.7,131.4 C397.4,133.4 398.4,137.2 399.1,137.4 C399.8,137.6 400.3,132.6 401,132.6 C401.7,132.6 402.5,138 403.4,137.4 C404.3,136.8 405.3,128.6 406.3,129 C407.3,129.4 408.4,139.2 409.2,139.8 C410,140.4 410.4,132.8 411.1,132.6 C411.8,132.4 412.7,138.8 413.5,138.6 C414.3,138.4 414.9,133.6 415.9,131.4 C416.9,129.2 418.5,127.4 419.5,125.4 C420.5,123.4 420.9,120.6 421.9,119.4 C422.9,118.1 424.6,117.1 425.6,118.1 C426.6,119.2 427,127 428,125.4 C428.9,123.8 430.2,109.7 431.1,108.5 C432,107.3 432.6,114.9 433.3,118.1 C433.9,121.4 434.5,124.8 435.2,127.8 C435.8,130.8 436.3,135.2 437.1,136.2 C437.9,137.2 439.1,137 440,133.8 C440.9,130.6 441.6,119.6 442.4,116.9 C443.2,114.3 444,115.7 444.8,118.1 C445.6,120.6 446.4,127.6 447.2,131.4 C448,135.2 448.8,142.2 449.6,141 C450.4,139.8 451.2,128.8 452,124.2 C452.8,119.6 453.6,115.3 454.4,113.3 C455.2,111.3 456,111.7 456.9,112.1 C457.7,112.5 458.5,113.5 459.3,115.7 C460.1,117.9 460.9,125.4 461.7,125.4 C462.5,125.4 463.3,117.5 464.1,115.7 C464.9,113.9 465.6,111.5 466.5,114.5 C467.4,117.5 468.7,131.4 469.6,133.8 C470.5,136.2 470.9,131 471.8,129 C472.7,127 473.9,121.8 474.9,121.8 C475.9,121.8 476.8,131.8 477.8,129 C478.8,126.2 480,107.5 480.9,104.9 C481.8,102.3 482.5,110.3 483.3,113.3 C484.1,116.3 484.7,121.2 485.7,123 C486.7,124.8 488.3,124 489.4,124.2 C490.4,124.4 491,125.6 491.8,124.2 C492.6,122.8 493.2,116.5 494.2,115.7 C495.2,114.9 496.8,117.7 497.8,119.4 C498.8,121 499.4,122.8 500.2,125.4 C501,128 501.8,135.8 502.6,135 C503.4,134.2 504.2,124.6 505,120.6 C505.8,116.5 506.6,111.9 507.4,110.9 C508.2,109.9 509,111.7 509.8,114.5 C510.6,117.3 511.2,125.8 512.2,127.8 C513.2,129.8 515,128.2 515.8,126.6 C516.7,125 516.9,119 517.5,118.1 C518.1,117.3 518.7,121.4 519.4,121.8 C520.2,122.2 521,122.2 521.9,120.6 C522.7,119 523.3,113.1 524.3,112.1 C525.3,111.1 526.9,114.7 527.9,114.5 C528.9,114.3 529.3,110.9 530.3,110.9 C531.3,110.9 532.9,113.9 533.9,114.5 C534.9,115.1 535.5,115.3 536.3,114.5 C537.1,113.7 537.7,109.5 538.7,109.7 C539.7,109.9 541.1,114.7 542.3,115.7 C543.5,116.7 544.7,116.7 545.9,115.7 C547.1,114.7 548.5,109.1 549.5,109.7 C550.5,110.3 551.1,119.6 551.9,119.4 C552.8,119.2 554,109.9 554.8,108.5 C555.6,107.1 555.8,108.3 556.8,110.9 C557.7,113.5 559.4,125.2 560.4,124.2 C561.4,123.2 562.1,107.9 562.8,104.9 C563.5,101.9 563.7,106.4 564.7,106.1 C565.7,105.8 567.6,102 568.6,103.1 C569.7,104.3 570,110.6 571,112.8 C572,115 573.6,116.8 574.6,116.4 C575.6,116 576.2,112.2 577,110.4 C577.8,108.6 578.6,103.1 579.4,105.6 C580.2,108 580.8,121.4 581.9,124.8 C582.9,128.2 584.5,127 585.5,126 C586.5,125 587.1,119.8 587.9,118.8 C588.7,117.8 589.5,120.8 590.3,120 C591.1,119.2 591.9,114.6 592.7,114 C593.5,113.4 594.1,116.6 595.1,116.4 C596.1,116.2 597.7,113.2 598.7,112.8 C599.7,112.4 600.4,112.4 601.1,114 C601.8,115.6 602.4,119.2 603,122.4 C603.6,125.6 604,132.8 604.7,133.2 C605.4,133.6 606.3,126.6 607.1,124.8 C607.9,123 608.7,123.6 609.5,122.4 C610.3,121.2 611.1,117.6 611.9,117.6 C612.7,117.6 613.3,121.6 614.4,122.4 C615.4,123.2 616.8,122.6 618,122.4 C619.2,122.2 620.6,123 621.6,121.2 C622.6,119.4 623.3,114.4 624,111.6 C624.7,108.8 625.2,104.2 625.9,104.4 C626.6,104.6 627.2,111.4 628.1,112.8 C629,114.2 630.1,113 631.2,112.8 C632.3,112.6 633.8,111.6 634.8,111.6 C635.8,111.6 636.4,111.6 637.2,112.8 C638,114 638.7,119.8 639.6,118.8 C640.5,117.8 641.7,107.6 642.5,106.8 C643.3,106 643.7,112 644.4,114 C645.2,116 645.8,117.8 646.9,118.8 C647.9,119.8 649.3,121.2 650.5,120 C651.6,118.8 652.6,112 653.6,111.6 C654.6,111.2 655.4,116.6 656.5,117.6 C657.6,118.6 658.9,117.4 660.1,117.6 C661.3,117.8 662.7,118 663.7,118.8 C664.7,119.6 665.3,122.4 666.1,122.4 C666.9,122.4 667.7,119 668.5,118.8 C669.3,118.6 670.2,122.2 670.9,121.2 C671.6,120.2 671.8,111.8 672.6,112.8 C673.4,113.8 674.8,126.6 675.7,127.2 C676.7,127.8 677.1,119.4 678.1,116.4 C679.2,113.4 680.8,109.2 681.8,109.2 C682.8,109.2 683.4,115 684.2,116.4 C685,117.8 685.7,116.4 686.6,117.6 C687.5,118.8 688.8,123.4 689.7,123.6 C690.6,123.8 691.3,119 692.1,118.8 C692.9,118.6 693.6,122.6 694.5,122.4 C695.4,122.2 696.5,119.6 697.4,117.6 C698.3,115.6 698.9,108.6 699.8,110.4 C700.7,112.2 701.9,128 702.9,128.4 C703.9,128.8 704.8,114.8 705.8,112.8 C706.8,110.8 708,115.2 709,116.4 C710,117.6 711,117.4 711.9,120 C712.7,122.6 713.5,132.8 714.3,132 C715.1,131.2 715.7,117.8 716.7,115.2 C717.7,112.6 719.3,116.2 720.3,116.4 C721.3,116.6 721.9,114 722.7,116.4 C723.5,118.8 724.3,130.6 725.1,130.8 C725.9,131 726.5,120 727.5,117.6 C728.5,115.2 730.1,116.6 731.1,116.4 C732.1,116.2 732.6,114.6 733.5,116.4 C734.4,118.2 735.6,125.8 736.4,127.2 C737.2,128.6 737.4,125.4 738.3,124.8 C739.3,124.2 740.9,125.6 741.9,123.6 C742.9,121.6 743.5,113.4 744.4,112.8 C745.2,112.2 745.8,120.2 746.8,120 C747.7,119.8 748.9,111.4 749.9,111.6 C750.9,111.8 751.9,120.2 752.8,121.2 C753.7,122.2 754.4,118.6 755.2,117.6 C756,116.6 756.6,115.8 757.6,115.2 C758.6,114.6 760.2,113.2 761.2,114 C762.2,114.8 762.8,120.4 763.6,120 C764.4,119.6 765.1,114 766,111.6 C766.9,109.2 768.2,106 769.1,105.6 C770.1,105.2 770.7,105.2 771.6,109.2 C772.4,113.2 773.6,129 774.4,129.6 C775.3,130.2 776,114.6 776.9,112.8 C777.7,111 778.5,119.8 779.3,118.8 C780.1,117.8 780.9,109.4 781.7,106.8 C782.4,104.2 783,100.9 783.6,103.1 C784.2,105.4 784.6,117.2 785.3,120 C786,122.8 786.9,121.8 787.7,120 C788.5,118.2 789.2,113 790.1,109.2 C791,105.4 792.2,96.3 793.2,97.1 C794.2,97.9 795.2,113 796.1,114 C797,115 797.7,105.4 798.5,103.1 C799.3,100.9 800.1,100.3 800.9,100.7 C801.7,101.1 802.7,104.4 803.3,105.6 C804,106.8 804.4,109.2 805,108 C805.6,106.8 806.2,98.1 806.9,98.3 C807.7,98.5 808.3,106.4 809.4,109.2 C810.4,112 812,113.8 813,115.2 C814,116.6 814.4,117 815.4,117.6 C816.3,118.2 817.5,118.4 818.6,118.8 C819.7,119.2 820.7,123.6 821.7,120 C822.7,116.4 823.7,98.7 824.6,97.1 C825.5,95.5 826.2,111.6 827,110.4 C827.9,109.2 828.9,90.7 829.9,89.9 C830.9,89.1 832.1,102.3 833.1,105.6 C834,108.8 834.7,106.4 835.5,109.2 C836.3,112 836.9,120.4 837.9,122.4 C838.9,124.4 840.5,121.2 841.5,121.2 C842.5,121.2 843.1,123.8 843.9,122.4 C844.7,121 845.5,114.6 846.3,112.8 C847.1,111 847.7,113.2 848.7,111.6 C849.7,110 851.3,103.3 852.3,103.1 C853.3,102.9 853.9,110.8 854.7,110.4 C855.5,110 856.3,101.1 857.1,100.7 C857.9,100.3 858.7,106.8 859.5,108 C860.3,109.2 861,109.6 861.9,108 C862.9,106.4 864.1,97.7 865.1,98.3 C866.1,98.9 866.9,109.6 868,111.6 C869,113.6 870.6,110.4 871.6,110.4 C872.6,110.4 873.2,112.4 874,111.6 C874.8,110.8 875.4,106.8 876.4,105.6 C877.4,104.4 878.8,105 880,104.4 C881.2,103.8 882.8,102.1 883.6,101.9 C884.4,101.7 884.3,104.8 884.8,103.1 C885.3,101.5 885.9,90.7 886.7,92.3 C887.5,93.9 888.5,109.2 889.6,112.8 C890.7,116.4 892.2,112.8 893.2,114 C894.2,115.2 894.8,120.2 895.6,120 C896.5,119.8 897.1,114.8 898.1,112.8 C899.1,110.8 900.7,108 901.7,108 C902.6,108 902.8,113.6 903.6,112.8 C904.4,112 905.6,104.4 906.5,103.1 C907.4,101.9 908,102.7 908.9,105.6 C909.8,108.4 911,120 912,120 C913,120 914,108.2 914.9,105.6 C915.8,102.9 916.5,104 917.3,104.4 C918.1,104.8 918.8,106 919.7,108 C920.6,110 921.7,115.8 922.6,116.4 C923.5,117 924.4,111.6 925.3,111.6 C926.1,111.6 926.9,116 927.7,116.4 C928.5,116.8 929.2,113.4 930.1,114 C931,114.6 932.1,121.4 933,120 C933.8,118.6 934.6,108.6 935.4,105.6 C936.2,102.5 937.1,102.1 937.8,101.9 C938.5,101.7 939,101.1 939.7,104.4 C940.4,107.6 941.2,120.6 942.1,121.2 C943,121.8 944.1,107 945,108 C945.9,109 946.5,123.4 947.4,127.2 C948.3,131 949.5,132.4 950.5,130.8 C951.5,129.2 952.5,118.2 953.4,117.6 C954.3,117 955,125.2 955.8,127.2 C956.6,129.2 957.4,128.6 958.2,129.6 C959,130.6 959.8,135 960.6,133.2 C961.5,131.4 962.1,120.8 963.1,118.8 C964,116.8 965.1,123.1 966.2,121.2 C967.3,119.3 968.6,108.5 969.6,107.5 C970.5,106.5 971,110.5 972,115.2 C972.9,119.9 974.2,133.6 975.1,135.6 C976,137.7 976.5,131 977.5,127.2 C978.5,123.4 980.1,113.4 981.1,112.8 C982.1,112.2 982.7,119.8 983.5,123.6 C984.3,127.4 985.1,135.4 985.9,135.6 C986.7,135.8 987.5,126.8 988.3,124.8 C989.1,122.8 989.7,125.2 990.7,123.6 C991.7,122 993.3,117.2 994.4,115.2 C995.4,113.2 995.8,111.4 996.8,111.6 C997.8,111.8 999.4,114 1000.4,116.4 C1001.4,118.8 1001.9,125.8 1002.8,126 C1003.7,126.2 1004.7,118.6 1005.7,117.6 C1006.7,116.6 1007.9,118.8 1008.8,120 C1009.7,121.2 1010.4,126 1011.2,124.8 C1012,123.6 1012.8,113.2 1013.6,112.8 C1014.4,112.4 1015.1,119.8 1016,122.4 C1016.9,125 1018.1,126.6 1019.1,128.4 C1020.2,130.2 1021.1,133.8 1022,133.2 C1023,132.6 1024,124.6 1024.9,124.8 C1025.8,125 1026.4,132.8 1027.3,134.4 C1028.3,136 1029.5,135 1030.5,134.4 C1031.4,133.8 1031.9,133.4 1032.9,130.8 C1033.8,128.2 1035,120.6 1036,118.8 C1037,117 1038,117.4 1038.9,120 C1039.8,122.6 1040.5,129.4 1041.3,134.4 C1042.1,139.5 1042.9,151.3 1043.7,150.1 C1044.5,148.9 1045.3,130.6 1046.1,127.2 C1046.9,123.8 1047.9,128 1048.5,129.6 C1049.1,131.2 1049.5,135.6 1049.7,136.9" fill="none" stroke="#7c86cf" stroke-width="1.2" stroke-linejoin="round"/>
<path d="M60.3,169.4 C60.6,170 61.5,174.3 62.2,173.1 C62.9,171.9 64,164.2 64.6,162.2 C65.2,160.2 65.2,160 65.8,161 C66.4,162 67.2,166.8 68.2,168.2 C69.2,169.6 70.4,170 71.9,169.4 C73.3,168.8 75.1,165.6 76.7,164.6 C78.3,163.6 80.3,163.2 81.5,163.4 C82.7,163.6 83.1,166.8 83.9,165.8 C84.7,164.8 85.7,159 86.3,157.4 C86.9,155.8 86.7,155.6 87.5,156.2 C88.3,156.8 89.9,160.4 91.1,161 C92.3,161.6 93.7,160.4 94.7,159.8 C95.7,159.2 96.3,157.4 97.1,157.4 C97.9,157.4 98.5,160 99.5,159.8 C100.5,159.6 101.9,156.2 103.1,156.2 C104.4,156.2 105.6,159.2 106.8,159.8 C108,160.4 109.4,158.8 110.4,159.8 C111.4,160.8 112,166 112.8,165.8 C113.6,165.6 114.2,160 115.2,158.6 C116.2,157.2 117.6,158 118.8,157.4 C120,156.8 121.2,156.4 122.4,155 C123.6,153.6 124.8,150.2 126,149 C127.2,147.8 128.4,148.2 129.6,147.8 C130.8,147.4 132,146.6 133.2,146.6 C134.4,146.6 135.6,147.8 136.9,147.8 C138.1,147.8 139.5,147.1 140.5,146.6 C141.5,146.1 141.9,145.1 142.9,144.9 C143.9,144.7 145.3,145.1 146.5,145.4 C147.7,145.7 148.5,146.2 150.1,146.6 C151.7,147 154.7,148.6 156.1,147.8 C157.5,147 157.5,144 158.5,141.8 C159.5,139.6 161.1,135.5 162.1,134.5 C163.1,133.5 163.7,134.3 164.5,135.7 C165.3,137.1 165.9,142.2 166.9,143 C167.9,143.8 169.6,141.2 170.6,140.6 C171.6,140 171.8,139.8 173,139.4 C174.2,139 176.6,138.1 177.8,138.1 C179,138.1 179.4,139.6 180.2,139.4 C181,139.2 181.6,137.5 182.6,136.9 C183.6,136.3 185,136.9 186.2,135.7 C187.4,134.5 188.8,129.9 189.8,129.7 C190.8,129.5 191.4,133.1 192.2,134.5 C193,135.9 193.8,138.5 194.6,138.1 C195.4,137.7 196,132.9 197,132.1 C198,131.3 199.6,132.9 200.6,133.3 C201.7,133.7 202.3,138.3 203.1,134.5 C203.9,130.7 204.5,114.5 205.5,110.5 C206.5,106.5 208.1,110.1 209.1,110.5 C210.1,110.9 210.7,112.3 211.5,112.9 C212.3,113.5 212.9,112.9 213.9,114.1 C214.9,115.3 216.5,118.5 217.5,120.1 C218.5,121.7 218.9,123.7 219.9,123.7 C220.9,123.7 222.3,121.1 223.5,120.1 C224.7,119.1 225.9,117.5 227.1,117.7 C228.3,117.9 229.5,121.3 230.7,121.3 C231.9,121.3 233.1,117.9 234.4,117.7 C235.6,117.5 236.8,120.3 238,120.1 C239.2,119.9 240.6,117.3 241.6,116.5 C242.6,115.7 243,114.9 244,115.3 C245,115.7 246.6,117.7 247.6,118.9 C248.6,120.1 248.8,122.5 250,122.5 C251.2,122.5 253.2,119.5 254.8,118.9 C256.4,118.3 258,119.1 259.6,118.9 C261.2,118.7 263,117.9 264.4,117.7 C265.8,117.5 266.9,117.7 268.1,117.7 C269.3,117.7 270.5,118.1 271.7,117.7 C272.9,117.3 274.1,116.7 275.3,115.3 C276.5,113.9 277.7,109.7 278.9,109.3 C280.1,108.9 281.3,111.7 282.5,112.9 C283.7,114.1 284.9,115.5 286.1,116.5 C287.3,117.5 288.5,118.3 289.7,118.9 C290.9,119.5 292.3,120.5 293.3,120.1 C294.3,119.7 294.9,117.3 295.7,116.5 C296.5,115.7 297.1,115.1 298.1,115.3 C299.2,115.5 300.6,117.5 301.8,117.7 C303,117.9 304.2,116.1 305.4,116.5 C306.6,116.9 307.4,120.4 309,120.1 C310.6,119.8 312.8,115.3 314.8,114.5 C316.8,113.8 319,116.1 320.8,115.7 C322.6,115.3 324.4,112.1 325.6,112.1 C326.9,112.1 327.1,115.5 328.1,115.7 C329.1,115.9 330.7,113.9 331.7,113.3 C332.7,112.7 333.1,112.5 334.1,112.1 C335.1,111.7 336.5,111.6 337.7,110.9 C338.9,110.2 340.3,107.6 341.3,108 C342.3,108.4 342.7,112.7 343.7,113.3 C344.7,114 346.3,112.5 347.3,112.1 C348.3,111.7 348.9,110.5 349.7,110.9 C350.5,111.3 351.1,114.7 352.1,114.5 C353.1,114.3 354.5,110.8 355.7,109.7 C356.9,108.6 358.1,108.2 359.4,108 C360.6,107.8 361.8,108 363,108.5 C364.2,109 365.4,111.5 366.6,110.9 C367.8,110.3 369,106.1 370.2,104.9 C371.4,103.7 372.8,104.5 373.8,103.7 C374.8,102.9 375.4,100.3 376.2,100.1 C377,99.9 377.6,101.9 378.6,102.5 C379.6,103.1 381,103.3 382.2,103.7 C383.4,104.1 384.6,105.1 385.8,104.9 C387,104.7 388.2,103.2 389.4,102.5 C390.6,101.8 391.9,101.1 393.1,100.8 C394.3,100.5 395.5,100.9 396.7,100.8 C397.9,100.7 399.1,100.2 400.3,100.1 C401.5,100 402.9,99.7 403.9,100.1 C404.9,100.5 405.5,103.1 406.3,102.5 C407.1,101.9 407.9,97.7 408.7,96.5 C409.5,95.3 410.3,94.3 411.1,95.3 C411.9,96.3 412.5,100.9 413.5,102.5 C414.5,104.1 416.1,104.7 417.1,104.9 C418.1,105.1 418.7,105.1 419.5,103.7 C420.3,102.3 421.1,97.9 421.9,96.5 C422.7,95.1 423.8,95 424.4,95.3 C425,95.6 424.8,98.4 425.6,98.4 C426.4,98.4 428.2,96.1 429.2,95.3 C430.2,94.5 430.8,93.4 431.6,93.6 C432.4,93.8 433,95.4 434,96.5 C435,97.6 436.4,99.5 437.6,100.1 C438.8,100.7 440,100.5 441.2,100.1 C442.4,99.7 443.8,98.8 444.8,97.7 C445.8,96.6 446.6,93.4 447.2,93.6 C447.8,93.8 448,97 448.4,98.9 C448.8,100.8 449,105.3 449.6,104.9 C450.2,104.5 451.2,97.7 452,96.5 C452.8,95.3 453.6,96.7 454.4,97.7 C455.2,98.7 456,102.1 456.9,102.5 C457.7,102.9 458.3,101.1 459.3,100.1 C460.3,99.1 461.7,97.5 462.9,96.5 C464.1,95.5 465.3,94.3 466.5,94.1 C467.7,93.9 468.9,94.7 470.1,95.3 C471.3,95.9 472.5,97.7 473.7,97.7 C474.9,97.7 476.1,95.9 477.3,95.3 C478.5,94.7 479.7,94.6 480.9,94.1 C482.1,93.6 483.3,91.7 484.5,92.1 C485.7,92.5 487.1,96.1 488.1,96.5 C489.2,96.9 489.8,94.8 490.6,94.6 C491.4,94.4 492,95 493,95.3 C494,95.6 495.4,96.7 496.6,96.5 C497.8,96.3 499.2,95.2 500.2,94.1 C501.2,93 501.8,89.5 502.6,89.7 C503.4,89.9 503.8,94.8 505,95.3 C506.2,95.8 508.4,93.5 509.8,92.9 C511.2,92.3 512.2,91.3 513.4,91.7 C514.6,92.1 516,94.2 517,95.3 C518,96.4 518.6,98.2 519.4,98.4 C520.2,98.6 520.6,97.1 521.9,96.5 C523.1,95.8 525.3,94.6 526.7,94.6 C528.1,94.5 529.1,96.1 530.3,96 C531.5,95.9 532.7,94.2 533.9,94.1 C535.1,94 536.3,94.9 537.5,95.3 C538.7,95.7 539.9,97.1 541.1,96.5 C542.3,95.9 543.5,91.9 544.7,91.7 C545.9,91.5 546.9,95.7 548.3,95.3 C549.7,94.9 551.5,90.5 553.1,89.3 C554.8,88.1 556.6,88.1 558,88.1 C559.4,88.1 560,89 561.6,89.3 C563.1,89.6 565.8,89.2 567.4,89.9 C569,90.6 569.8,93.1 571,93.5 C572.2,93.9 573.3,93.7 574.6,92.3 C576,90.9 577.8,85.9 579,85.1 C580.2,84.3 581,86.3 581.9,87.5 C582.7,88.7 583.3,91.1 584.3,92.3 C585.3,93.5 586.7,94.7 587.9,94.7 C589.1,94.7 590.3,93.3 591.5,92.3 C592.7,91.3 593.9,88.7 595.1,88.7 C596.3,88.7 597.5,91.5 598.7,92.3 C599.9,93.1 601.3,93.5 602.3,93.5 C603.3,93.5 603.7,91.9 604.7,92.3 C605.7,92.7 607.1,95.1 608.3,95.9 C609.5,96.7 610.9,96.5 611.9,97.1 C612.9,97.7 613.5,100.1 614.4,99.5 C615.2,98.9 615.8,94.3 616.8,93.5 C617.8,92.7 619.2,94.7 620.4,94.7 C621.6,94.7 622.8,93.9 624,93.5 C625.2,93.1 626.4,92.4 627.6,92.3 C628.8,92.2 630,93.8 631.2,93 C632.4,92.2 633.8,87.6 634.8,87.5 C635.8,87.4 636.2,91.7 637.2,92.3 C638.2,92.9 639.6,91.5 640.8,91.1 C642,90.7 643.2,89.7 644.4,89.9 C645.6,90.1 646.9,91.5 648.1,92.3 C649.3,93.1 650.6,95.1 651.7,94.7 C652.8,94.3 653.6,90.5 654.6,89.9 C655.6,89.3 656.6,90.7 657.7,91.1 C658.8,91.5 660.1,91.9 661.3,92.3 C662.5,92.7 663.7,92.9 664.9,93.5 C666.1,94.1 667.3,95.9 668.5,95.9 C669.7,95.9 670.9,94.1 672.1,93.5 C673.3,92.9 674.5,92.9 675.7,92.3 C676.9,91.7 678.3,90.5 679.4,89.9 C680.4,89.3 681,88.1 681.8,88.7 C682.6,89.3 683.2,92.5 684.2,93.5 C685.2,94.5 686.6,93.9 687.8,94.7 C689,95.5 690.2,98.1 691.4,98.3 C692.6,98.5 693.8,96.4 695,95.9 C696.2,95.4 697.4,95.6 698.6,95.4 C699.8,95.2 700.8,94.6 702.2,94.7 C703.6,94.8 705.6,95.6 707,95.9 C708.4,96.2 709.4,96.8 710.6,96.4 C711.9,96 713.2,94.8 714.3,93.5 C715.3,92.2 716.1,89.3 717.1,88.7 C718.2,88.1 719.2,89.5 720.3,89.9 C721.4,90.3 722.7,90.7 723.9,91.1 C725.1,91.5 726.3,92.3 727.5,92.3 C728.7,92.3 729.9,91.3 731.1,91.1 C732.3,90.9 733.5,91.4 734.7,91.1 C735.9,90.8 736.9,89.2 738.3,89.2 C739.7,89.2 741.7,90.8 743.1,91.1 C744.6,91.4 745.6,92.1 746.8,91.1 C748,90.1 749.2,85.5 750.4,85.1 C751.6,84.7 752.8,88.1 754,88.7 C755.2,89.3 756.4,88.9 757.6,88.7 C758.8,88.5 760,87.9 761.2,87.5 C762.4,87.1 763.6,86.9 764.8,86.3 C766,85.7 767.4,84.6 768.4,83.9 C769.4,83.2 769.9,82.8 770.8,82 C771.8,81.2 773,78.6 774,79.1 C775,79.6 775.8,84.3 776.9,85.1 C777.9,85.9 779.3,83.9 780.5,83.9 C781.7,83.9 782.9,84.7 784.1,85.1 C785.3,85.5 786.5,86.5 787.7,86.3 C788.9,86.1 790.1,84.6 791.3,83.9 C792.5,83.2 793.7,82.2 794.9,82 C796.1,81.8 797.3,82.2 798.5,82.7 C799.7,83.2 800.9,85.1 802.1,85.1 C803.3,85.1 804.3,83.3 805.7,82.7 C807.1,82.1 809,81.6 810.6,81.5 C812.2,81.4 813.8,81.6 815.4,82 C816.9,82.4 818.5,84.8 819.8,83.9 C821.2,83 822.2,77.7 823.4,76.7 C824.6,75.7 825.8,77.1 827,77.9 C828.2,78.7 829.4,81.5 830.6,81.5 C831.9,81.5 833.1,77.3 834.3,77.9 C835.5,78.5 836.9,84.7 837.9,85.1 C838.9,85.5 839.5,81.3 840.3,80.3 C841.1,79.3 841.9,78.3 842.7,79.1 C843.5,79.9 844.1,84.3 845.1,85.1 C846.1,85.9 847.5,84.4 848.7,83.9 C849.9,83.4 851.1,82 852.3,82 C853.5,81.9 854.7,83.5 855.9,83.4 C857.1,83.3 858.5,82.6 859.5,81.5 C860.5,80.4 861.1,76.1 861.9,76.7 C862.7,77.3 863.3,83.7 864.4,85.1 C865.4,86.5 866.8,84.7 868,85.1 C869.2,85.5 870.4,86.9 871.6,87.5 C872.8,88.1 874,88.9 875.2,88.7 C876.4,88.5 877.6,87.1 878.8,86.3 C880,85.5 881.2,83.3 882.4,83.9 C883.6,84.5 884.8,89.5 886,89.9 C887.2,90.3 888.4,86.7 889.6,86.3 C890.8,85.9 892,87.1 893.2,87.5 C894.4,87.9 895.6,89.3 896.9,88.7 C898.1,88.1 899.3,84.5 900.5,83.9 C901.7,83.3 902.9,84.7 904.1,85.1 C905.3,85.5 906.5,84.7 907.7,86.3 C908.9,87.9 910.2,93.9 911.3,94.7 C912.4,95.5 913.2,91.7 914.2,91.1 C915.2,90.5 916.2,91.7 917.3,91.1 C918.4,90.5 919.7,87.9 920.9,87.5 C922.1,87.1 923.5,88.5 924.5,88.7 C925.5,88.9 925.9,89.3 926.9,88.7 C927.9,88.1 929.6,86 930.6,85.1 C931.6,84.2 932.2,82.8 933,83.4 C933.8,84 934.4,87.4 935.4,88.7 C936.4,90 937.8,90.3 939,91.1 C940.2,91.9 941.4,93.1 942.6,93.5 C943.8,93.9 945,93.6 946.2,93.5 C947.4,93.4 948.6,93.4 949.8,93 C951,92.6 952.2,91.2 953.4,91.1 C954.6,91 956,91.9 957,92.3 C958,92.7 958.4,93.1 959.4,93.5 C960.4,93.9 961.9,94.1 963.1,94.7 C964.3,95.3 965.5,96.6 966.7,97.1 C967.9,97.7 969.1,97.5 970.3,97.9 C971.5,98.3 972.7,100.1 973.9,99.5 C975.1,99 976.3,95.9 977.5,94.7 C978.7,93.5 979.9,92.5 981.1,92.3 C982.3,92.1 983.5,91.7 984.7,93.5 C985.9,95.3 987.1,102.3 988.3,103.1 C989.5,104 990.7,99.1 991.9,98.3 C993.1,97.5 994.4,98.7 995.6,98.3 C996.8,97.9 998,96.3 999.2,95.9 C1000.4,95.5 1001.6,95.7 1002.8,95.9 C1004,96.1 1005.2,97.3 1006.4,97.1 C1007.6,96.9 1008.9,95.9 1010,94.7 C1011.1,93.5 1011.9,88.7 1012.9,89.9 C1013.9,91.1 1015,100.9 1016,101.9 C1017.1,102.9 1018.1,96.8 1019.1,95.9 C1020.2,95 1021.2,95.8 1022,96.4 C1022.9,97 1023.6,98.6 1024.4,99.5 C1025.2,100.5 1025.8,102.1 1026.9,101.9 C1027.9,101.7 1029.3,98.7 1030.5,98.3 C1031.7,97.9 1032.9,99.3 1034.1,99.5 C1035.3,99.7 1036.5,99.9 1037.7,99.5 C1038.9,99.1 1040.1,97.1 1041.3,97.1 C1042.5,97.1 1043.9,99.5 1044.9,99.5 C1045.9,99.5 1046.5,97.5 1047.3,97.1 C1048.1,96.7 1049.3,97.1 1049.7,97.1" fill="none" stroke="#de2450" stroke-width="2" stroke-dasharray="5 3.5" stroke-linejoin="round"/>
<text x="66.3" y="277" class="t" text-anchor="middle">08:15</text>
<text x="107.5" y="277" class="t" text-anchor="middle">08:30</text>
<text x="148.7" y="277" class="t" text-anchor="middle">08:45</text>
<text x="190.0" y="277" class="t" text-anchor="middle">09:00</text>
<text x="231.2" y="277" class="t" text-anchor="middle">09:15</text>
<text x="272.4" y="277" class="t" text-anchor="middle">09:30</text>
<text x="313.6" y="277" class="t" text-anchor="middle">09:45</text>
<text x="354.9" y="277" class="t" text-anchor="middle">10:00</text>
<text x="396.1" y="277" class="t" text-anchor="middle">10:15</text>
<text x="437.3" y="277" class="t" text-anchor="middle">10:30</text>
<text x="478.5" y="277" class="t" text-anchor="middle">10:45</text>
<text x="519.7" y="277" class="t" text-anchor="middle">11:00</text>
<text x="561.0" y="277" class="t" text-anchor="middle">11:15</text>
<text x="602.2" y="277" class="t" text-anchor="middle">11:30</text>
<text x="643.4" y="277" class="t" text-anchor="middle">11:45</text>
<text x="684.6" y="277" class="t" text-anchor="middle">12:00</text>
<text x="725.8" y="277" class="t" text-anchor="middle">12:15</text>
<text x="767.1" y="277" class="t" text-anchor="middle">12:30</text>
<text x="808.3" y="277" class="t" text-anchor="middle">12:45</text>
<text x="849.5" y="277" class="t" text-anchor="middle">13:00</text>
<text x="890.7" y="277" class="t" text-anchor="middle">13:15</text>
<text x="932.0" y="277" class="t" text-anchor="middle">13:30</text>
<text x="973.2" y="277" class="t" text-anchor="middle">13:45</text>
<text x="1014.4" y="277" class="t" text-anchor="middle">14:00</text>
<line x1="38.6" y1="386.3" x2="1049.5" y2="386.3" class="g"/>
<line x1="38.6" y1="429.2" x2="1049.5" y2="429.2" class="g"/>
<line x1="38.6" y1="472.0" x2="1049.5" y2="472.0" class="g"/>
<line x1="47.7" y1="378" x2="47.7" y2="516" class="gv"/>
<line x1="89.7" y1="378" x2="89.7" y2="516" class="gv"/>
<line x1="131.7" y1="378" x2="131.7" y2="516" class="gv"/>
<line x1="173.6" y1="378" x2="173.6" y2="516" class="gv"/>
<line x1="215.6" y1="378" x2="215.6" y2="516" class="gv"/>
<line x1="257.6" y1="378" x2="257.6" y2="516" class="gv"/>
<line x1="299.6" y1="378" x2="299.6" y2="516" class="gv"/>
<line x1="341.6" y1="378" x2="341.6" y2="516" class="gv"/>
<line x1="383.6" y1="378" x2="383.6" y2="516" class="gv"/>
<line x1="425.5" y1="378" x2="425.5" y2="516" class="gv"/>
<line x1="467.5" y1="378" x2="467.5" y2="516" class="gv"/>
<line x1="509.5" y1="378" x2="509.5" y2="516" class="gv"/>
<line x1="551.5" y1="378" x2="551.5" y2="516" class="gv"/>
<line x1="593.5" y1="378" x2="593.5" y2="516" class="gv"/>
<line x1="635.5" y1="378" x2="635.5" y2="516" class="gv"/>
<line x1="677.4" y1="378" x2="677.4" y2="516" class="gv"/>
<line x1="719.4" y1="378" x2="719.4" y2="516" class="gv"/>
<line x1="761.4" y1="378" x2="761.4" y2="516" class="gv"/>
<line x1="803.4" y1="378" x2="803.4" y2="516" class="gv"/>
<line x1="845.4" y1="378" x2="845.4" y2="516" class="gv"/>
<line x1="887.4" y1="378" x2="887.4" y2="516" class="gv"/>
<line x1="929.3" y1="378" x2="929.3" y2="516" class="gv"/>
<line x1="971.3" y1="378" x2="971.3" y2="516" class="gv"/>
<line x1="1013.3" y1="378" x2="1013.3" y2="516" class="gv"/>
<g fill="#4fae55"><rect x="40.98" y="429.20" width="2.34" height="0.80"/><rect x="43.78" y="429.20" width="2.34" height="22.50"/><rect x="46.58" y="429.20" width="2.34" height="34.28"/><rect x="49.38" y="404.56" width="2.34" height="24.64"/><rect x="52.18" y="429.20" width="2.34" height="10.71"/><rect x="54.97" y="405.63" width="2.34" height="23.57"/><rect x="57.77" y="429.20" width="2.34" height="61.49"/><rect x="60.57" y="429.20" width="2.34" height="55.70"/><rect x="63.37" y="429.20" width="2.34" height="26.57"/><rect x="66.17" y="422.34" width="2.34" height="6.86"/><rect x="68.97" y="429.20" width="2.34" height="46.71"/><rect x="71.77" y="406.92" width="2.34" height="22.28"/><rect x="74.57" y="429.20" width="2.34" height="39.64"/><rect x="77.37" y="429.20" width="2.34" height="19.71"/><rect x="80.17" y="429.20" width="2.34" height="37.92"/><rect x="82.96" y="429.20" width="2.34" height="25.28"/><rect x="85.76" y="429.20" width="2.34" height="15.64"/><rect x="88.56" y="409.27" width="2.34" height="19.93"/><rect x="91.36" y="407.99" width="2.34" height="21.21"/><rect x="94.16" y="419.99" width="2.34" height="9.21"/><rect x="96.96" y="429.20" width="2.34" height="4.07"/><rect x="99.76" y="415.06" width="2.34" height="14.14"/><rect x="102.56" y="429.20" width="2.34" height="24.42"/><rect x="105.36" y="429.20" width="2.34" height="69.63"/><rect x="108.16" y="429.20" width="2.34" height="13.71"/><rect x="110.95" y="429.20" width="2.34" height="4.28"/><rect x="113.75" y="429.20" width="2.34" height="18.43"/><rect x="116.55" y="421.06" width="2.34" height="8.14"/><rect x="119.35" y="429.20" width="2.34" height="11.57"/><rect x="122.15" y="429.20" width="2.34" height="0.80"/><rect x="124.95" y="406.28" width="2.34" height="22.92"/><rect x="127.75" y="429.20" width="2.34" height="0.80"/><rect x="130.55" y="429.20" width="2.34" height="25.92"/><rect x="133.35" y="423.20" width="2.34" height="6.00"/><rect x="136.15" y="429.20" width="2.34" height="13.71"/><rect x="138.95" y="401.13" width="2.34" height="28.07"/><rect x="141.74" y="426.41" width="2.34" height="2.79"/><rect x="144.54" y="429.20" width="2.34" height="57.42"/><rect x="147.34" y="399.42" width="2.34" height="29.78"/><rect x="150.14" y="429.20" width="2.34" height="0.80"/><rect x="152.94" y="429.20" width="2.34" height="28.28"/><rect x="155.74" y="429.20" width="2.34" height="20.57"/><rect x="158.54" y="400.06" width="2.34" height="29.14"/><rect x="161.34" y="425.34" width="2.34" height="3.86"/><rect x="164.14" y="429.20" width="2.34" height="0.80"/><rect x="166.94" y="429.20" width="2.34" height="5.36"/><rect x="169.73" y="429.20" width="2.34" height="25.28"/><rect x="172.53" y="420.63" width="2.34" height="8.57"/><rect x="175.33" y="429.20" width="2.34" height="43.71"/><rect x="178.13" y="429.20" width="2.34" height="12.21"/><rect x="180.93" y="429.20" width="2.34" height="59.35"/><rect x="183.73" y="427.91" width="2.34" height="1.29"/><rect x="186.53" y="429.20" width="2.34" height="34.07"/><rect x="189.33" y="429.20" width="2.34" height="68.35"/><rect x="192.13" y="429.20" width="2.34" height="34.49"/><rect x="194.93" y="429.20" width="2.34" height="46.71"/><rect x="197.72" y="429.20" width="2.34" height="67.70"/><rect x="200.52" y="429.20" width="2.34" height="19.71"/><rect x="203.32" y="429.20" width="2.34" height="35.78"/><rect x="206.12" y="415.06" width="2.34" height="14.14"/><rect x="208.92" y="429.20" width="2.34" height="56.56"/><rect x="211.72" y="429.20" width="2.34" height="40.49"/><rect x="214.52" y="427.91" width="2.34" height="1.29"/><rect x="217.32" y="425.99" width="2.34" height="3.21"/><rect x="220.12" y="429.20" width="2.34" height="9.86"/><rect x="222.92" y="429.20" width="2.34" height="45.85"/><rect x="225.71" y="429.20" width="2.34" height="37.49"/><rect x="228.51" y="429.20" width="2.34" height="46.71"/><rect x="231.31" y="429.20" width="2.34" height="44.35"/><rect x="234.11" y="429.20" width="2.34" height="6.00"/><rect x="236.91" y="429.20" width="2.34" height="1.07"/><rect x="239.71" y="429.20" width="2.34" height="49.06"/><rect x="242.51" y="429.20" width="2.34" height="13.93"/><rect x="245.31" y="429.20" width="2.34" height="0.80"/><rect x="248.11" y="425.99" width="2.34" height="3.21"/><rect x="250.91" y="429.20" width="2.34" height="32.14"/><rect x="253.70" y="429.20" width="2.34" height="51.85"/><rect x="256.50" y="426.41" width="2.34" height="2.79"/><rect x="259.30" y="429.20" width="2.34" height="40.92"/><rect x="262.10" y="429.20" width="2.34" height="56.99"/><rect x="264.90" y="429.20" width="2.34" height="21.42"/><rect x="267.70" y="429.20" width="2.34" height="41.35"/><rect x="270.50" y="429.20" width="2.34" height="43.71"/><rect x="273.30" y="429.20" width="2.34" height="24.42"/><rect x="276.10" y="429.20" width="2.34" height="11.57"/><rect x="278.89" y="429.20" width="2.34" height="25.28"/><rect x="281.69" y="419.99" width="2.34" height="9.21"/><rect x="284.49" y="429.20" width="2.34" height="10.50"/><rect x="287.29" y="429.20" width="2.34" height="13.93"/><rect x="290.09" y="429.20" width="2.34" height="0.80"/><rect x="292.89" y="429.20" width="2.34" height="26.57"/><rect x="295.69" y="429.20" width="2.34" height="18.43"/><rect x="298.49" y="429.20" width="2.34" height="43.06"/><rect x="301.29" y="429.20" width="2.34" height="4.07"/><rect x="304.09" y="429.20" width="2.34" height="20.57"/><rect x="306.88" y="429.20" width="2.34" height="27.85"/><rect x="309.68" y="417.63" width="2.34" height="11.57"/><rect x="312.48" y="429.20" width="2.34" height="41.99"/><rect x="315.28" y="429.20" width="2.34" height="4.07"/><rect x="318.08" y="429.20" width="2.34" height="26.57"/><rect x="320.88" y="429.20" width="2.34" height="35.78"/><rect x="323.68" y="411.42" width="2.34" height="17.78"/><rect x="326.48" y="425.34" width="2.34" height="3.86"/><rect x="329.28" y="429.20" width="2.34" height="25.92"/><rect x="332.08" y="429.20" width="2.34" height="24.85"/><rect x="334.87" y="429.20" width="2.34" height="25.92"/><rect x="337.67" y="429.20" width="2.34" height="36.64"/><rect x="340.47" y="429.20" width="2.34" height="5.36"/><rect x="343.27" y="429.20" width="2.34" height="39.64"/><rect x="346.07" y="429.20" width="2.34" height="3.00"/><rect x="348.87" y="429.20" width="2.34" height="1.29"/><rect x="351.67" y="415.06" width="2.34" height="14.14"/><rect x="354.47" y="429.20" width="2.34" height="13.28"/><rect x="357.27" y="429.20" width="2.34" height="8.78"/><rect x="360.07" y="429.20" width="2.34" height="47.35"/><rect x="362.86" y="429.20" width="2.34" height="27.64"/><rect x="365.66" y="429.20" width="2.34" height="0.80"/><rect x="368.46" y="429.20" width="2.34" height="33.42"/><rect x="371.26" y="429.20" width="2.34" height="41.35"/><rect x="374.06" y="429.20" width="2.34" height="4.07"/><rect x="376.86" y="429.20" width="2.34" height="9.21"/><rect x="379.66" y="429.20" width="2.34" height="28.28"/><rect x="382.46" y="429.20" width="2.34" height="13.28"/><rect x="385.26" y="429.20" width="2.34" height="35.14"/><rect x="388.06" y="429.20" width="2.34" height="37.07"/><rect x="390.85" y="429.20" width="2.34" height="24.85"/><rect x="393.65" y="429.20" width="2.34" height="29.35"/><rect x="396.45" y="429.20" width="2.34" height="44.99"/><rect x="399.25" y="429.20" width="2.34" height="37.07"/><rect x="402.05" y="429.20" width="2.34" height="23.57"/><rect x="404.85" y="429.20" width="2.34" height="9.21"/><rect x="407.65" y="429.20" width="2.34" height="19.07"/><rect x="410.45" y="429.20" width="2.34" height="0.80"/><rect x="413.25" y="425.34" width="2.34" height="3.86"/><rect x="416.05" y="429.20" width="2.34" height="15.64"/><rect x="418.84" y="423.42" width="2.34" height="5.78"/><rect x="421.64" y="429.20" width="2.34" height="21.42"/><rect x="424.44" y="429.20" width="2.34" height="67.27"/><rect x="427.24" y="429.20" width="2.34" height="9.21"/><rect x="430.04" y="421.06" width="2.34" height="8.14"/><rect x="432.84" y="429.20" width="2.34" height="0.80"/><rect x="435.64" y="429.20" width="2.34" height="44.35"/><rect x="438.44" y="429.20" width="2.34" height="34.07"/><rect x="441.24" y="429.20" width="2.34" height="9.86"/><rect x="444.04" y="395.35" width="2.34" height="33.85"/><rect x="446.83" y="429.20" width="2.34" height="6.00"/><rect x="449.63" y="429.20" width="2.34" height="23.57"/><rect x="452.43" y="416.13" width="2.34" height="13.07"/><rect x="455.23" y="429.20" width="2.34" height="0.80"/><rect x="458.03" y="429.20" width="2.34" height="36.64"/><rect x="460.83" y="429.20" width="2.34" height="34.07"/><rect x="463.63" y="423.42" width="2.34" height="5.78"/><rect x="466.43" y="429.20" width="2.34" height="18.43"/><rect x="469.23" y="429.20" width="2.34" height="2.14"/><rect x="472.03" y="421.49" width="2.34" height="7.71"/><rect x="474.82" y="429.20" width="2.34" height="30.64"/><rect x="477.62" y="429.20" width="2.34" height="29.78"/><rect x="480.42" y="429.20" width="2.34" height="25.92"/><rect x="483.22" y="408.63" width="2.34" height="20.57"/><rect x="486.02" y="429.20" width="2.34" height="19.71"/><rect x="488.82" y="429.20" width="2.34" height="31.28"/><rect x="491.62" y="429.20" width="2.34" height="48.21"/><rect x="494.42" y="428.34" width="2.34" height="0.86"/><rect x="497.22" y="429.20" width="2.34" height="1.29"/><rect x="500.02" y="429.20" width="2.34" height="38.14"/><rect x="502.81" y="429.20" width="2.34" height="9.21"/><rect x="505.61" y="429.20" width="2.34" height="19.07"/><rect x="508.41" y="429.20" width="2.34" height="24.42"/><rect x="511.21" y="429.20" width="2.34" height="3.64"/><rect x="514.01" y="429.20" width="2.34" height="0.80"/><rect x="516.81" y="429.20" width="2.34" height="5.36"/><rect x="519.61" y="421.92" width="2.34" height="7.28"/><rect x="522.41" y="429.20" width="2.34" height="6.43"/><rect x="525.21" y="425.99" width="2.34" height="3.21"/><rect x="528.01" y="429.20" width="2.34" height="0.80"/><rect x="530.81" y="419.99" width="2.34" height="9.21"/><rect x="533.60" y="429.20" width="2.34" height="22.07"/><rect x="536.40" y="427.06" width="2.34" height="2.14"/><rect x="539.20" y="429.20" width="2.34" height="7.50"/><rect x="542.00" y="429.20" width="2.34" height="6.00"/><rect x="544.80" y="429.20" width="2.34" height="9.21"/><rect x="547.60" y="429.20" width="2.34" height="27.64"/><rect x="550.40" y="429.20" width="2.34" height="19.71"/><rect x="553.20" y="422.99" width="2.34" height="6.21"/><rect x="556.00" y="429.20" width="2.34" height="6.00"/><rect x="558.79" y="426.41" width="2.34" height="2.79"/><rect x="561.59" y="426.84" width="2.34" height="2.36"/><rect x="564.39" y="429.20" width="2.34" height="15.64"/><rect x="567.19" y="429.20" width="2.34" height="10.93"/><rect x="569.99" y="429.20" width="2.34" height="2.36"/><rect x="572.79" y="429.20" width="2.34" height="45.85"/><rect x="575.59" y="429.20" width="2.34" height="23.57"/><rect x="578.39" y="429.20" width="2.34" height="10.50"/><rect x="581.19" y="429.20" width="2.34" height="31.28"/><rect x="583.99" y="426.84" width="2.34" height="2.36"/><rect x="586.78" y="429.20" width="2.34" height="21.42"/><rect x="589.58" y="424.91" width="2.34" height="4.28"/><rect x="592.38" y="429.20" width="2.34" height="25.92"/><rect x="595.18" y="429.20" width="2.34" height="36.21"/><rect x="597.98" y="429.20" width="2.34" height="3.00"/><rect x="600.78" y="427.91" width="2.34" height="1.29"/><rect x="603.58" y="429.20" width="2.34" height="19.07"/><rect x="606.38" y="429.20" width="2.34" height="15.64"/><rect x="609.18" y="429.20" width="2.34" height="25.92"/><rect x="611.98" y="429.20" width="2.34" height="23.57"/><rect x="614.77" y="412.27" width="2.34" height="16.93"/><rect x="617.57" y="419.56" width="2.34" height="9.64"/><rect x="620.37" y="429.20" width="2.34" height="4.07"/><rect x="623.17" y="429.20" width="2.34" height="18.43"/><rect x="625.97" y="429.20" width="2.34" height="15.64"/><rect x="628.77" y="416.13" width="2.34" height="13.07"/><rect x="631.57" y="429.20" width="2.34" height="28.92"/><rect x="634.37" y="419.56" width="2.34" height="9.64"/><rect x="637.17" y="429.20" width="2.34" height="25.92"/><rect x="639.97" y="429.20" width="2.34" height="19.07"/><rect x="642.76" y="429.20" width="2.34" height="10.93"/><rect x="645.56" y="429.20" width="2.34" height="1.07"/><rect x="648.36" y="429.20" width="2.34" height="22.50"/><rect x="651.16" y="429.20" width="2.34" height="12.21"/><rect x="653.96" y="429.20" width="2.34" height="27.64"/><rect x="656.76" y="429.20" width="2.34" height="21.42"/><rect x="659.56" y="429.20" width="2.34" height="9.21"/><rect x="662.36" y="429.20" width="2.34" height="9.86"/><rect x="665.16" y="429.20" width="2.34" height="12.21"/><rect x="667.96" y="429.20" width="2.34" height="32.78"/><rect x="670.75" y="429.20" width="2.34" height="12.21"/><rect x="673.55" y="429.20" width="2.34" height="15.64"/><rect x="676.35" y="425.34" width="2.34" height="3.86"/><rect x="679.15" y="429.20" width="2.34" height="16.07"/><rect x="681.95" y="429.20" width="2.34" height="15.64"/><rect x="684.75" y="427.91" width="2.34" height="1.29"/><rect x="687.55" y="429.20" width="2.34" height="17.35"/><rect x="690.35" y="429.20" width="2.34" height="7.50"/><rect x="693.15" y="429.20" width="2.34" height="6.86"/><rect x="695.95" y="429.20" width="2.34" height="28.28"/><rect x="698.75" y="429.20" width="2.34" height="3.00"/><rect x="701.54" y="426.41" width="2.34" height="2.79"/><rect x="704.34" y="429.20" width="2.34" height="9.21"/><rect x="707.14" y="429.20" width="2.34" height="38.56"/><rect x="709.94" y="429.20" width="2.34" height="20.14"/><rect x="712.74" y="429.20" width="2.34" height="4.07"/><rect x="715.54" y="429.20" width="2.34" height="35.14"/><rect x="718.34" y="429.20" width="2.34" height="14.57"/><rect x="721.14" y="429.20" width="2.34" height="20.14"/><rect x="723.94" y="429.20" width="2.34" height="6.43"/><rect x="726.74" y="429.20" width="2.34" height="22.50"/><rect x="729.53" y="429.20" width="2.34" height="35.78"/><rect x="732.33" y="429.20" width="2.34" height="30.64"/><rect x="735.13" y="429.20" width="2.34" height="27.00"/><rect x="737.93" y="429.20" width="2.34" height="8.78"/><rect x="740.73" y="429.20" width="2.34" height="22.50"/><rect x="743.53" y="429.20" width="2.34" height="21.42"/><rect x="746.33" y="429.20" width="2.34" height="20.14"/><rect x="749.13" y="429.20" width="2.34" height="35.78"/><rect x="751.93" y="429.20" width="2.34" height="10.93"/><rect x="754.73" y="429.20" width="2.34" height="11.57"/><rect x="757.52" y="429.20" width="2.34" height="35.78"/><rect x="760.32" y="429.20" width="2.34" height="5.36"/><rect x="763.12" y="429.20" width="2.34" height="12.85"/><rect x="765.92" y="429.20" width="2.34" height="27.00"/><rect x="768.72" y="429.20" width="2.34" height="52.92"/><rect x="771.52" y="429.20" width="2.34" height="23.57"/><rect x="774.32" y="429.20" width="2.34" height="15.64"/><rect x="777.12" y="429.20" width="2.34" height="9.86"/><rect x="779.92" y="429.20" width="2.34" height="39.64"/><rect x="782.72" y="429.20" width="2.34" height="27.64"/><rect x="785.51" y="429.20" width="2.34" height="6.43"/><rect x="788.31" y="429.20" width="2.34" height="3.00"/><rect x="791.11" y="429.20" width="2.34" height="31.71"/><rect x="793.91" y="429.20" width="2.34" height="0.80"/><rect x="796.71" y="403.49" width="2.34" height="25.71"/><rect x="799.51" y="429.20" width="2.34" height="16.71"/><rect x="802.31" y="427.27" width="2.34" height="1.93"/><rect x="805.11" y="429.20" width="2.34" height="35.14"/><rect x="807.91" y="429.20" width="2.34" height="29.78"/><rect x="810.71" y="429.20" width="2.34" height="28.28"/><rect x="813.50" y="429.20" width="2.34" height="40.49"/><rect x="816.30" y="429.20" width="2.34" height="38.14"/><rect x="819.10" y="427.91" width="2.34" height="1.29"/><rect x="821.90" y="429.20" width="2.34" height="27.64"/><rect x="824.70" y="412.70" width="2.34" height="16.50"/><rect x="827.50" y="429.20" width="2.34" height="25.92"/><rect x="830.30" y="429.20" width="2.34" height="10.50"/><rect x="833.10" y="429.20" width="2.34" height="40.92"/><rect x="835.90" y="429.20" width="2.34" height="51.85"/><rect x="838.70" y="429.20" width="2.34" height="48.85"/><rect x="841.49" y="429.20" width="2.34" height="22.07"/><rect x="844.29" y="429.20" width="2.34" height="14.57"/><rect x="847.09" y="429.20" width="2.34" height="10.50"/><rect x="849.89" y="429.20" width="2.34" height="17.35"/><rect x="852.69" y="418.92" width="2.34" height="10.28"/><rect x="855.49" y="429.20" width="2.34" height="4.07"/><rect x="858.29" y="429.20" width="2.34" height="20.57"/><rect x="861.09" y="429.20" width="2.34" height="10.93"/><rect x="863.89" y="429.20" width="2.34" height="10.93"/><rect x="866.68" y="429.20" width="2.34" height="20.57"/><rect x="869.48" y="420.63" width="2.34" height="8.57"/><rect x="872.28" y="423.42" width="2.34" height="5.78"/><rect x="875.08" y="429.20" width="2.34" height="9.21"/><rect x="877.88" y="414.42" width="2.34" height="14.78"/><rect x="880.68" y="429.20" width="2.34" height="0.80"/><rect x="883.48" y="411.42" width="2.34" height="17.78"/><rect x="886.28" y="426.41" width="2.34" height="2.79"/><rect x="889.08" y="429.20" width="2.34" height="24.85"/><rect x="891.88" y="429.20" width="2.34" height="23.57"/><rect x="894.67" y="429.20" width="2.34" height="22.92"/><rect x="897.47" y="429.20" width="2.34" height="9.21"/><rect x="900.27" y="429.20" width="2.34" height="7.50"/><rect x="903.07" y="429.20" width="2.34" height="10.93"/><rect x="905.87" y="421.49" width="2.34" height="7.71"/><rect x="908.67" y="429.20" width="2.34" height="11.57"/><rect x="911.47" y="405.42" width="2.34" height="23.78"/><rect x="914.27" y="429.20" width="2.34" height="0.80"/><rect x="917.07" y="429.20" width="2.34" height="20.14"/><rect x="919.87" y="429.20" width="2.34" height="6.86"/><rect x="922.66" y="429.20" width="2.34" height="11.57"/><rect x="925.46" y="429.20" width="2.34" height="11.57"/><rect x="928.26" y="429.20" width="2.34" height="29.78"/><rect x="931.06" y="429.20" width="2.34" height="32.14"/><rect x="933.86" y="415.49" width="2.34" height="13.71"/><rect x="936.66" y="412.27" width="2.34" height="16.93"/><rect x="939.46" y="429.20" width="2.34" height="22.92"/><rect x="942.26" y="418.92" width="2.34" height="10.28"/><rect x="945.06" y="429.20" width="2.34" height="32.14"/><rect x="947.86" y="429.20" width="2.34" height="40.92"/><rect x="950.65" y="429.20" width="2.34" height="20.14"/><rect x="953.45" y="429.20" width="2.34" height="29.78"/><rect x="956.25" y="429.20" width="2.34" height="35.78"/><rect x="959.05" y="429.20" width="2.34" height="40.92"/><rect x="961.85" y="429.20" width="2.34" height="9.21"/><rect x="964.65" y="429.20" width="2.34" height="19.71"/><rect x="967.45" y="390.85" width="2.34" height="38.35"/><rect x="970.25" y="429.20" width="2.34" height="16.71"/><rect x="973.05" y="429.20" width="2.34" height="45.85"/><rect x="975.85" y="429.20" width="2.34" height="15.64"/><rect x="978.64" y="429.20" width="2.34" height="9.21"/><rect x="981.44" y="429.20" width="2.34" height="48.21"/><rect x="984.24" y="429.20" width="2.34" height="30.64"/><rect x="987.04" y="429.20" width="2.34" height="4.07"/><rect x="989.84" y="429.20" width="2.34" height="17.35"/><rect x="992.64" y="404.56" width="2.34" height="24.64"/><rect x="995.44" y="429.20" width="2.34" height="9.21"/><rect x="998.24" y="429.20" width="2.34" height="27.64"/><rect x="1001.04" y="429.20" width="2.34" height="9.86"/><rect x="1003.84" y="429.20" width="2.34" height="4.50"/><rect x="1006.63" y="429.20" width="2.34" height="13.71"/><rect x="1009.43" y="429.20" width="2.34" height="8.78"/><rect x="1012.23" y="429.20" width="2.34" height="22.07"/><rect x="1015.03" y="429.20" width="2.34" height="4.07"/><rect x="1017.83" y="429.20" width="2.34" height="35.14"/><rect x="1020.63" y="429.20" width="2.34" height="18.43"/><rect x="1023.43" y="429.20" width="2.34" height="38.14"/><rect x="1026.23" y="429.20" width="2.34" height="27.00"/><rect x="1029.03" y="429.20" width="2.34" height="13.28"/><rect x="1031.83" y="429.20" width="2.34" height="25.50"/><rect x="1034.62" y="429.20" width="2.34" height="9.21"/><rect x="1037.42" y="429.20" width="2.34" height="0.80"/><rect x="1040.22" y="429.20" width="2.34" height="40.92"/><rect x="1043.02" y="429.20" width="2.34" height="64.27"/><rect x="1045.82" y="429.20" width="2.34" height="16.71"/></g>
<text x="47.7" y="527.7" class="t" text-anchor="middle">08:15</text>
<text x="89.7" y="527.7" class="t" text-anchor="middle">08:30</text>
<text x="131.7" y="527.7" class="t" text-anchor="middle">08:45</text>
<text x="173.6" y="527.7" class="t" text-anchor="middle">09:00</text>
<text x="215.6" y="527.7" class="t" text-anchor="middle">09:15</text>
<text x="257.6" y="527.7" class="t" text-anchor="middle">09:30</text>
<text x="299.6" y="527.7" class="t" text-anchor="middle">09:45</text>
<text x="341.6" y="527.7" class="t" text-anchor="middle">10:00</text>
<text x="383.6" y="527.7" class="t" text-anchor="middle">10:15</text>
<text x="425.5" y="527.7" class="t" text-anchor="middle">10:30</text>
<text x="467.5" y="527.7" class="t" text-anchor="middle">10:45</text>
<text x="509.5" y="527.7" class="t" text-anchor="middle">11:00</text>
<text x="551.5" y="527.7" class="t" text-anchor="middle">11:15</text>
<text x="593.5" y="527.7" class="t" text-anchor="middle">11:30</text>
<text x="635.5" y="527.7" class="t" text-anchor="middle">11:45</text>
<text x="677.4" y="527.7" class="t" text-anchor="middle">12:00</text>
<text x="719.4" y="527.7" class="t" text-anchor="middle">12:15</text>
<text x="761.4" y="527.7" class="t" text-anchor="middle">12:30</text>
<text x="803.4" y="527.7" class="t" text-anchor="middle">12:45</text>
<text x="845.4" y="527.7" class="t" text-anchor="middle">13:00</text>
<text x="887.4" y="527.7" class="t" text-anchor="middle">13:15</text>
<text x="929.3" y="527.7" class="t" text-anchor="middle">13:30</text>
<text x="971.3" y="527.7" class="t" text-anchor="middle">13:45</text>
<text x="1013.3" y="527.7" class="t" text-anchor="middle">14:00</text>
<text x="33.8" y="389.3" class="t" text-anchor="end">20%</text>
<text x="33.8" y="432.2" class="t" text-anchor="end">0%</text>
<text x="33.8" y="475.0" class="t" text-anchor="end">-20%</text>
<!-- mosaic over y axis labels -->
<rect x="7" y="16.5" width="69" height="80.5" fill="#fcfcfc"/>
<rect x="7" y="16.5" width="5" height="80.5" fill="#f8f8f8"/>
<rect x="12" y="93" width="14" height="3.5" fill="#efefef"/>
<rect x="36" y="97" width="18" height="177" fill="#fdfdfd"/>
<rect x="52.3" y="159" width="3.5" height="40" fill="#fcdfe3"/>
<rect x="39" y="52.5" width="13.5" height="13.5" fill="#e2e3e3"/>
<rect x="25" y="52.5" width="14" height="13.5" fill="#f5f6f6"/>
<rect x="38.5" y="119" width="14.3" height="13.4" fill="#e2e3e3"/>
<rect x="39" y="186.5" width="13.5" height="12.8" fill="#e2e3e3"/>
<rect x="38.5" y="252.5" width="14" height="13.5" fill="#e2e3e3"/>
<text class="lg" transform="translate(20,160.5) rotate(-90)" text-anchor="middle">取消订单总量(每一分钟QPM)</text>
<!-- titles -->
<text class="title" x="542" y="29.5" text-anchor="middle">取消订单<tspan class="lb">QPM</tspan></text>
<text class="title" x="541.5" y="347" text-anchor="middle" style="font-size:11.7px">取消订单<tspan class="lb">-QPM</tspan>同比前七天波动比例<tspan class="lb">(</tspan>上下波幅在<tspan class="lb">-50% ~ 85%</tspan>期间均为绿柱，<tspan class="lb">&gt;85%</tspan>或<tspan class="lb">&lt;-50%</tspan>为红柱<tspan class="lb">) * </tspan>连续红柱需警惕故障</text>
<!-- axis label -->
<text class="lg" x="554.4" y="293" text-anchor="middle">取消订单总量(每一分钟QPM)</text>
<!-- legend -->
<rect x="25" y="305.3" width="12" height="3" rx="1" fill="#2f6fd6"/>
<text class="lg" x="44" y="310.2">取消订单总量</text>
<text class="lg" x="111.7" y="310.2">Min: 56</text>
<text class="lg" x="152.3" y="310.2">Max: 190</text>
<text class="lg" x="200.6" y="310.2">Last: 115</text>
<rect x="251.6" y="305.3" width="11" height="3" rx="1" fill="#dc1f4a"/>
<text class="lg" x="269.6" y="310.2">[参照线]基线</text>
<text class="lg" x="332.9" y="310.2">Min: 79.7</text>
<text class="lg" x="381.8" y="310.2">Max: 216</text>
<text class="lg" x="430.7" y="310.2">Last: 173</text>
<!-- table legend headers -->
<text class="hd" x="959.2" y="543">Last</text>
<text class="hd" x="999.4" y="543">Max</text>
<text class="hd" x="1039.8" y="543">Min</text>
<!-- icons -->
<g fill="none" stroke="#55595f" stroke-width="1.2">
<path d="M1032.5,28.4 L1032.5,25.3 A2.7,2.8 0 0 1 1037.9,25.3 L1037.9,28.4"/>
<rect x="1031.3" y="28.4" width="7.8" height="1.8" rx="0.9"/>
</g>
<circle cx="1035.2" cy="21.8" r="0.8" fill="#55595f"/>
<path d="M1033.5,30.6 A1.7,1.6 0 0 0 1036.9,30.6 Z" fill="#55595f"/>
<g fill="#555a60"><circle cx="1051.9" cy="22.6" r="1.1"/><circle cx="1051.9" cy="26.5" r="1.1"/><circle cx="1051.9" cy="30.4" r="1.1"/></g>
<!-- resize handle -->
<path d="M1075,315 L1075,320 L1070,320" fill="none" stroke="#8e9196" stroke-width="1.2"/>
</svg>
<div id="tab"></div>
</body></html>
